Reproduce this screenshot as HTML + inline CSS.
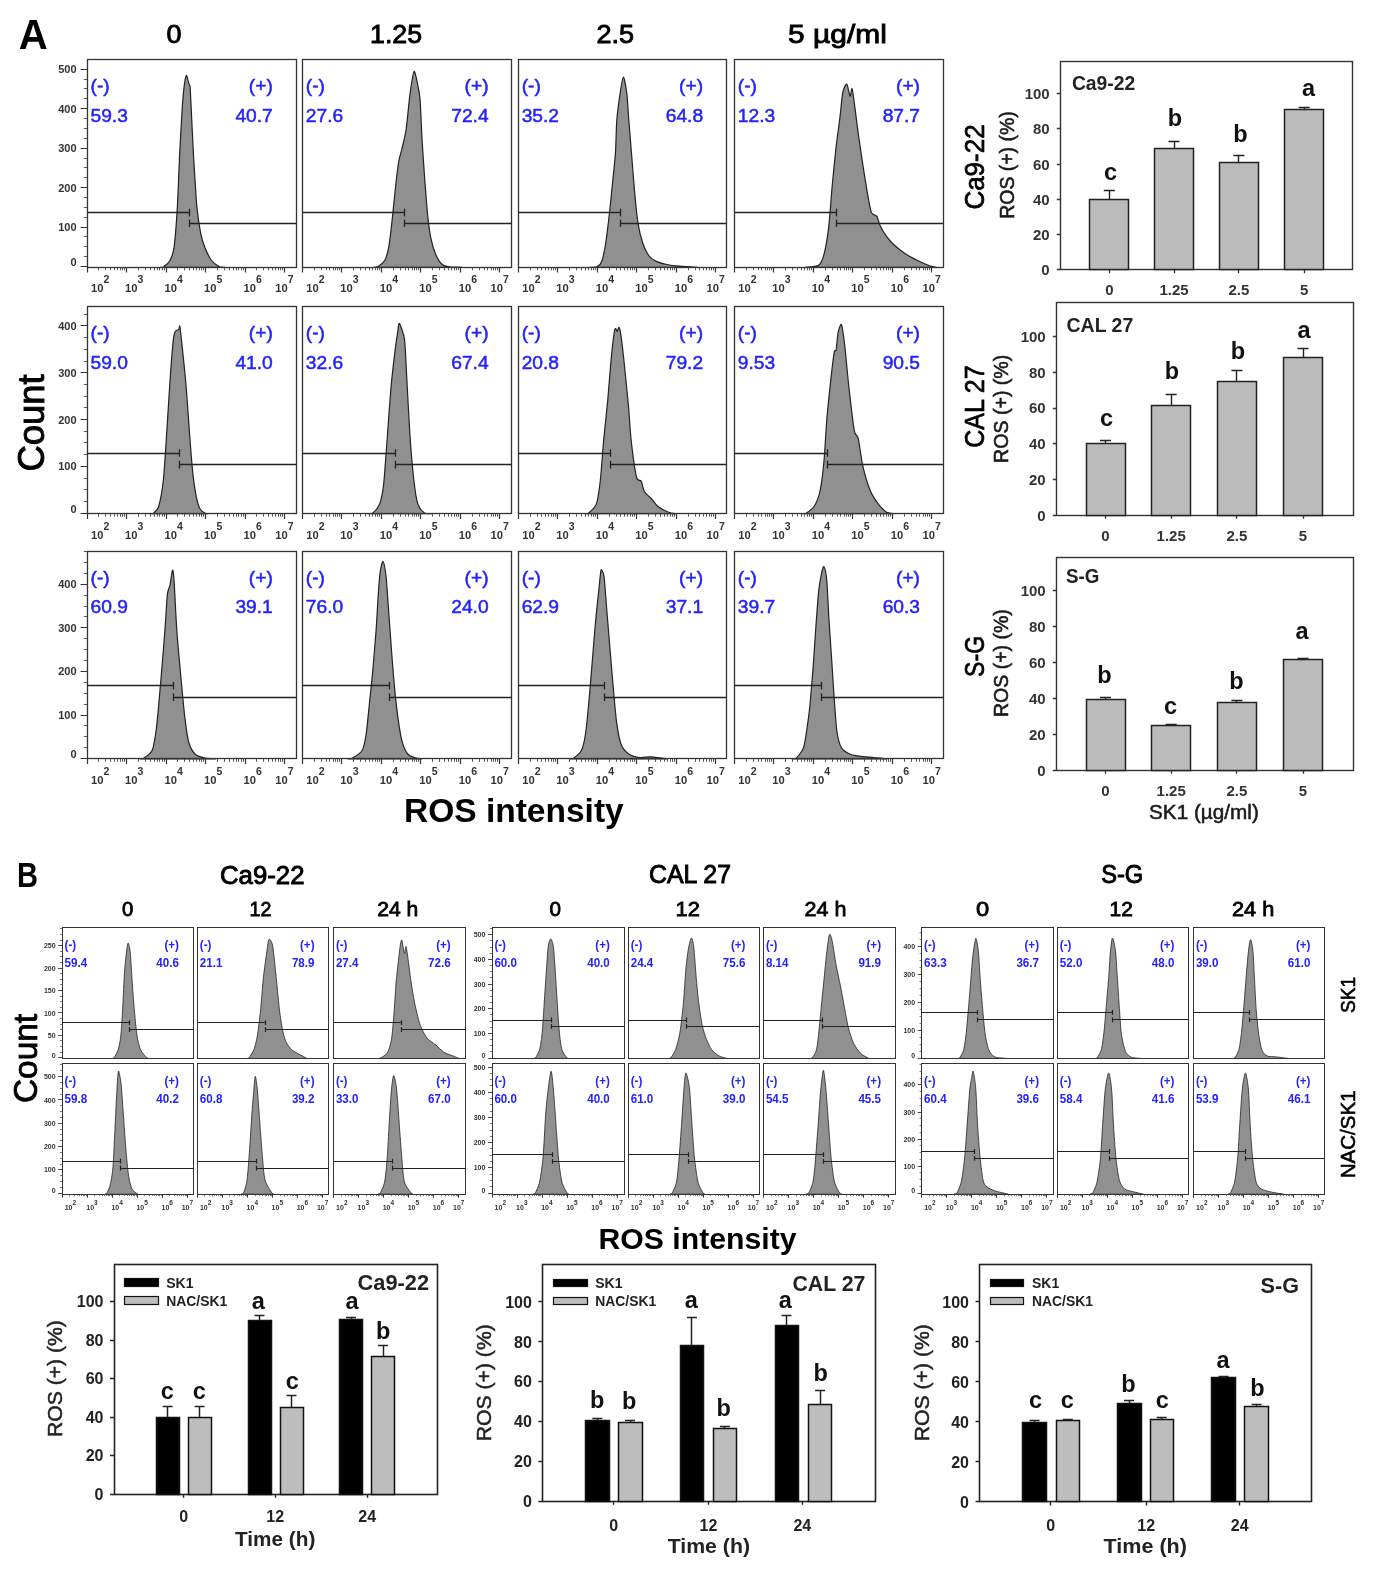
<!DOCTYPE html>
<html><head><meta charset="utf-8"><style>
html,body{margin:0;padding:0;background:#fff;width:1373px;height:1571px;overflow:hidden}
svg{display:block;font-family:"Liberation Sans", sans-serif;filter:blur(0.45px)}
</style></head><body>
<svg width="1373" height="1571" viewBox="0 0 1373 1571">
<rect width="1373" height="1571" fill="#fff"/>
<text x="18.8" y="49.2" font-size="42.5" font-weight="bold" textLength="29" lengthAdjust="spacingAndGlyphs">A</text>
<text x="166.5" y="43" font-size="26" textLength="15" lengthAdjust="spacingAndGlyphs" stroke="#000" stroke-width="0.9">0</text>
<text x="370.1" y="43" font-size="26" textLength="52" lengthAdjust="spacingAndGlyphs" stroke="#000" stroke-width="0.9">1.25</text>
<text x="596.5" y="43" font-size="26" textLength="37.6" lengthAdjust="spacingAndGlyphs" stroke="#000" stroke-width="0.9">2.5</text>
<text x="788.1" y="43" font-size="26" textLength="98.9" lengthAdjust="spacingAndGlyphs" stroke="#000" stroke-width="0.9">5 µg/ml</text>
<path d="M160 267.3C160.4 267.3 162.2 267.3 163.4 267C164.7 266.1 168.7 263 170 260.5C171.3 258 173.2 254 174.1 247.2C175 240.4 176.7 217.8 177.4 206.1C178.1 194.4 179 166.8 179.7 153.6C180.4 140.3 182 109.8 182.8 100.1C183.6 90.4 185.3 77.9 186.1 75.8C186.8 73.7 188.3 82 188.8 83.4C189.3 84.8 189.8 84.6 190.1 86.7C190.3 88.8 190.4 91.7 190.8 100.1C191.2 108.5 192.7 140.3 193.4 153.6C194.2 166.8 195.9 196.1 196.8 206.1C197.7 216.1 199.8 228.7 200.8 233.8C201.8 238.9 203.5 243.9 204.8 247.2C206.1 250.5 209.7 258.1 211.5 260.5C213.3 262.9 217.8 265.9 219.5 266.8C221.2 267.3 224.3 267.2 225 267.3Z" fill="#909090" stroke="#222" stroke-width="1.2" stroke-linejoin="round"/>
<rect x="87.5" y="59.5" width="209" height="208" fill="none" stroke="#333" stroke-width="1.3"/>
<text x="76.5" y="266.1" font-size="11" font-weight="bold" fill="#333" text-anchor="end">0</text>
<text x="76.5" y="231.1" font-size="11" font-weight="bold" fill="#333" text-anchor="end">100</text>
<text x="76.5" y="191.6" font-size="11" font-weight="bold" fill="#333" text-anchor="end">200</text>
<text x="76.5" y="152.1" font-size="11" font-weight="bold" fill="#333" text-anchor="end">300</text>
<text x="76.5" y="112.6" font-size="11" font-weight="bold" fill="#333" text-anchor="end">400</text>
<text x="76.5" y="73.2" font-size="11" font-weight="bold" fill="#333" text-anchor="end">500</text>
<text x="91" y="291.5" font-size="11.2" font-weight="bold" fill="#333">10</text>
<text x="103.5" y="282.9" font-size="10.5" font-weight="bold" fill="#333">2</text>
<text x="125" y="291.5" font-size="11.2" font-weight="bold" fill="#333">10</text>
<text x="137.5" y="282.9" font-size="10.5" font-weight="bold" fill="#333">3</text>
<text x="164.5" y="291.5" font-size="11.2" font-weight="bold" fill="#333">10</text>
<text x="177" y="282.9" font-size="10.5" font-weight="bold" fill="#333">4</text>
<text x="204" y="291.5" font-size="11.2" font-weight="bold" fill="#333">10</text>
<text x="216.5" y="282.9" font-size="10.5" font-weight="bold" fill="#333">5</text>
<text x="243.5" y="291.5" font-size="11.2" font-weight="bold" fill="#333">10</text>
<text x="256" y="282.9" font-size="10.5" font-weight="bold" fill="#333">6</text>
<text x="275.3" y="291.5" font-size="11.2" font-weight="bold" fill="#333">10</text>
<text x="287.8" y="282.9" font-size="10.5" font-weight="bold" fill="#333">7</text>
<text x="90.5" y="92.2" font-size="19.2" fill="#2222ff" stroke="#2222ff" stroke-width="0.5">(-)</text>
<text x="90.5" y="121.7" font-size="19.2" fill="#2222ff" stroke="#2222ff" stroke-width="0.5">59.3</text>
<text x="272.8" y="92.2" font-size="19.2" fill="#2222ff" text-anchor="end" stroke="#2222ff" stroke-width="0.5">(+)</text>
<text x="272.8" y="121.7" font-size="19.2" fill="#2222ff" text-anchor="end" stroke="#2222ff" stroke-width="0.5">40.7</text>
<path d="M374 267.3C374.5 267.2 376.7 267.3 378 266.6C379.3 265.8 383.4 262.9 384.7 260.5C386 258.1 387.8 252.2 388.7 247.2C389.6 242.2 391.3 227.8 392.1 220.4C392.9 213 394.6 195.7 395.4 188.3C396.2 181 397.9 166.6 398.7 161.6C399.5 156.6 401.2 152.2 402.1 148.2C403 144.2 405.1 136.3 406.1 129.5C407.1 122.7 409.1 100.7 410.1 93.4C411.1 86.1 413.1 72.2 414.1 71.4C415.1 70.6 417.4 83.1 418.1 86.7C418.9 90.3 419.6 93.4 420.1 100.1C420.6 106.8 421.5 130.2 422.1 140.2C422.7 150.2 424.1 171.1 424.8 180.3C425.5 189.5 426.8 206.5 427.5 213.7C428.2 220.9 429.8 232.8 430.8 237.8C431.8 242.8 434.1 250.6 435.5 253.9C436.9 257.2 440.4 262.9 442.2 264.5C444 266.1 447.7 266.5 450.2 266.9C452.7 267.2 460.7 267.2 462.2 267.3Z" fill="#909090" stroke="#222" stroke-width="1.2" stroke-linejoin="round"/>
<rect x="302.5" y="59.5" width="209" height="208" fill="none" stroke="#333" stroke-width="1.3"/>
<text x="306.3" y="291.5" font-size="11.2" font-weight="bold" fill="#333">10</text>
<text x="318.8" y="282.9" font-size="10.5" font-weight="bold" fill="#333">2</text>
<text x="340.3" y="291.5" font-size="11.2" font-weight="bold" fill="#333">10</text>
<text x="352.8" y="282.9" font-size="10.5" font-weight="bold" fill="#333">3</text>
<text x="379.8" y="291.5" font-size="11.2" font-weight="bold" fill="#333">10</text>
<text x="392.3" y="282.9" font-size="10.5" font-weight="bold" fill="#333">4</text>
<text x="419.3" y="291.5" font-size="11.2" font-weight="bold" fill="#333">10</text>
<text x="431.8" y="282.9" font-size="10.5" font-weight="bold" fill="#333">5</text>
<text x="458.8" y="291.5" font-size="11.2" font-weight="bold" fill="#333">10</text>
<text x="471.3" y="282.9" font-size="10.5" font-weight="bold" fill="#333">6</text>
<text x="490.6" y="291.5" font-size="11.2" font-weight="bold" fill="#333">10</text>
<text x="503.1" y="282.9" font-size="10.5" font-weight="bold" fill="#333">7</text>
<text x="305.8" y="92.2" font-size="19.2" fill="#2222ff" stroke="#2222ff" stroke-width="0.5">(-)</text>
<text x="305.8" y="121.7" font-size="19.2" fill="#2222ff" stroke="#2222ff" stroke-width="0.5">27.6</text>
<text x="488.6" y="92.2" font-size="19.2" fill="#2222ff" text-anchor="end" stroke="#2222ff" stroke-width="0.5">(+)</text>
<text x="488.6" y="121.7" font-size="19.2" fill="#2222ff" text-anchor="end" stroke="#2222ff" stroke-width="0.5">72.4</text>
<path d="M590 267.3C590.9 267.2 595.9 267.3 597.4 266.6C598.9 265.8 601 263.8 602.1 260.5C603.2 257.2 605.2 246.3 606.1 240.5C607 234.7 608.6 220.4 609.4 213.7C610.1 207 611.4 194.5 612.1 187C612.9 179.5 614.8 161.9 615.4 153.6C616 145.2 616.2 127.7 616.8 120.2C617.4 112.7 619.3 98.8 620.1 93.4C620.9 88 622.6 77.1 623.4 77.1C624.2 77.1 626.1 88 626.8 93.4C627.5 98.8 628.2 112.7 628.8 120.2C629.4 127.7 630.8 144.4 631.5 153.6C632.2 162.8 634 184.8 634.8 193.7C635.6 202.5 637.2 218.2 638.2 224.4C639.2 230.6 641.4 239.2 642.8 243.2C644.2 247.2 647.7 254.2 649.5 256.5C651.3 258.8 655.3 260.9 657.5 261.9C659.7 262.9 664.2 264 666.9 264.5C669.6 265 675.2 265.8 679 266.2C682.8 266.6 695.3 267.2 697.6 267.3Z" fill="#909090" stroke="#222" stroke-width="1.2" stroke-linejoin="round"/>
<rect x="518.5" y="59.5" width="208" height="208" fill="none" stroke="#333" stroke-width="1.3"/>
<text x="522.2" y="291.5" font-size="11.2" font-weight="bold" fill="#333">10</text>
<text x="534.7" y="282.9" font-size="10.5" font-weight="bold" fill="#333">2</text>
<text x="556.2" y="291.5" font-size="11.2" font-weight="bold" fill="#333">10</text>
<text x="568.7" y="282.9" font-size="10.5" font-weight="bold" fill="#333">3</text>
<text x="595.7" y="291.5" font-size="11.2" font-weight="bold" fill="#333">10</text>
<text x="608.2" y="282.9" font-size="10.5" font-weight="bold" fill="#333">4</text>
<text x="635.2" y="291.5" font-size="11.2" font-weight="bold" fill="#333">10</text>
<text x="647.7" y="282.9" font-size="10.5" font-weight="bold" fill="#333">5</text>
<text x="674.7" y="291.5" font-size="11.2" font-weight="bold" fill="#333">10</text>
<text x="687.2" y="282.9" font-size="10.5" font-weight="bold" fill="#333">6</text>
<text x="706.5" y="291.5" font-size="11.2" font-weight="bold" fill="#333">10</text>
<text x="719" y="282.9" font-size="10.5" font-weight="bold" fill="#333">7</text>
<text x="521.7" y="92.2" font-size="19.2" fill="#2222ff" stroke="#2222ff" stroke-width="0.5">(-)</text>
<text x="521.7" y="121.7" font-size="19.2" fill="#2222ff" stroke="#2222ff" stroke-width="0.5">35.2</text>
<text x="703.1" y="92.2" font-size="19.2" fill="#2222ff" text-anchor="end" stroke="#2222ff" stroke-width="0.5">(+)</text>
<text x="703.1" y="121.7" font-size="19.2" fill="#2222ff" text-anchor="end" stroke="#2222ff" stroke-width="0.5">64.8</text>
<path d="M805.3 267.3C807 267.1 816.4 267 818.7 265.3C821.1 263.6 822.9 258.7 824.1 253.9C825.4 249.1 827.7 235.5 828.7 227.1C829.7 218.7 831.2 197 832.1 187C833 177 835.1 155.8 836.1 146.9C837.1 138 839.3 122.9 840.1 116.1C840.9 109.2 842 96.1 842.8 92.1C843.6 88.1 845.9 83.6 846.8 84.1C847.7 84.6 849.4 95.5 850.1 96.1C850.8 96.7 851.5 87.4 852.1 88.7C852.7 90 854 100.7 854.8 106.8C855.6 112.9 857.8 130.3 858.8 137.5C859.8 144.7 861.8 157.8 862.8 164.3C863.8 170.8 865.8 183.8 866.8 189.7C867.8 195.5 870.1 208 870.9 211.1C871.7 214.2 872.8 213.8 873.5 214.5C874.2 215.2 876.1 215 876.9 216.4C877.7 217.8 879.1 223.5 880.2 225.8C881.3 228.1 883.9 232.8 885.6 235.1C887.3 237.4 891.1 242.2 893.6 244.5C896.1 246.8 902.6 251.9 905.6 253.9C908.6 255.9 914.8 259.1 917.6 260.5C920.4 261.9 925.9 264.4 928.3 265.3C930.6 266.2 935.4 267.1 936.4 267.3Z" fill="#909090" stroke="#222" stroke-width="1.2" stroke-linejoin="round"/>
<rect x="734.5" y="59.5" width="209" height="208" fill="none" stroke="#333" stroke-width="1.3"/>
<text x="738.3" y="291.5" font-size="11.2" font-weight="bold" fill="#333">10</text>
<text x="750.8" y="282.9" font-size="10.5" font-weight="bold" fill="#333">2</text>
<text x="772.3" y="291.5" font-size="11.2" font-weight="bold" fill="#333">10</text>
<text x="784.8" y="282.9" font-size="10.5" font-weight="bold" fill="#333">3</text>
<text x="811.8" y="291.5" font-size="11.2" font-weight="bold" fill="#333">10</text>
<text x="824.3" y="282.9" font-size="10.5" font-weight="bold" fill="#333">4</text>
<text x="851.3" y="291.5" font-size="11.2" font-weight="bold" fill="#333">10</text>
<text x="863.8" y="282.9" font-size="10.5" font-weight="bold" fill="#333">5</text>
<text x="890.8" y="291.5" font-size="11.2" font-weight="bold" fill="#333">10</text>
<text x="903.3" y="282.9" font-size="10.5" font-weight="bold" fill="#333">6</text>
<text x="922.6" y="291.5" font-size="11.2" font-weight="bold" fill="#333">10</text>
<text x="935.1" y="282.9" font-size="10.5" font-weight="bold" fill="#333">7</text>
<text x="737.8" y="92.2" font-size="19.2" fill="#2222ff" stroke="#2222ff" stroke-width="0.5">(-)</text>
<text x="737.8" y="121.7" font-size="19.2" fill="#2222ff" stroke="#2222ff" stroke-width="0.5">12.3</text>
<text x="920" y="92.2" font-size="19.2" fill="#2222ff" text-anchor="end" stroke="#2222ff" stroke-width="0.5">(+)</text>
<text x="920" y="121.7" font-size="19.2" fill="#2222ff" text-anchor="end" stroke="#2222ff" stroke-width="0.5">87.7</text>
<path d="M150 513.7C150.4 513.6 152.3 513.7 153.4 513.2C154.5 512.3 157.4 510.7 158.7 506.5C159.9 502.3 162.4 489 163.4 479.8C164.4 470.6 165.9 445.5 166.7 433C167.5 420.5 169.3 391.2 170.1 379.5C170.9 367.8 172.7 345.4 173.4 339.4C174.1 333.4 174.7 332.6 175.4 331.4C176.1 330.1 178.2 330.1 178.8 329.4C179.4 328.7 179.5 324.9 179.8 326.1C180.1 327.4 180.6 331.9 181.4 339.4C182.2 346.9 185.1 374.5 186.1 386.2C187.1 397.9 188.7 422.1 189.5 433C190.3 443.9 192 465.2 192.8 473.1C193.6 481 195.2 491.3 196.1 495.8C197 500.3 199 507 200.2 509.2C201.4 511.4 204.5 512.7 205.5 513.3C206.5 513.7 207.7 513.7 208 513.7Z" fill="#909090" stroke="#222" stroke-width="1.2" stroke-linejoin="round"/>
<rect x="87.5" y="306.5" width="209" height="207" fill="none" stroke="#333" stroke-width="1.3"/>
<text x="76.5" y="512.6" font-size="11" font-weight="bold" fill="#333" text-anchor="end">0</text>
<text x="76.5" y="470.3" font-size="11" font-weight="bold" fill="#333" text-anchor="end">100</text>
<text x="76.5" y="423.5" font-size="11" font-weight="bold" fill="#333" text-anchor="end">200</text>
<text x="76.5" y="376.7" font-size="11" font-weight="bold" fill="#333" text-anchor="end">300</text>
<text x="76.5" y="329.9" font-size="11" font-weight="bold" fill="#333" text-anchor="end">400</text>
<text x="91" y="538.6" font-size="11.2" font-weight="bold" fill="#333">10</text>
<text x="103.5" y="529.6" font-size="10.5" font-weight="bold" fill="#333">2</text>
<text x="125" y="538.6" font-size="11.2" font-weight="bold" fill="#333">10</text>
<text x="137.5" y="529.6" font-size="10.5" font-weight="bold" fill="#333">3</text>
<text x="164.5" y="538.6" font-size="11.2" font-weight="bold" fill="#333">10</text>
<text x="177" y="529.6" font-size="10.5" font-weight="bold" fill="#333">4</text>
<text x="204" y="538.6" font-size="11.2" font-weight="bold" fill="#333">10</text>
<text x="216.5" y="529.6" font-size="10.5" font-weight="bold" fill="#333">5</text>
<text x="243.5" y="538.6" font-size="11.2" font-weight="bold" fill="#333">10</text>
<text x="256" y="529.6" font-size="10.5" font-weight="bold" fill="#333">6</text>
<text x="275.3" y="538.6" font-size="11.2" font-weight="bold" fill="#333">10</text>
<text x="287.8" y="529.6" font-size="10.5" font-weight="bold" fill="#333">7</text>
<text x="90.5" y="339.1" font-size="19.2" fill="#2222ff" stroke="#2222ff" stroke-width="0.5">(-)</text>
<text x="90.5" y="368.6" font-size="19.2" fill="#2222ff" stroke="#2222ff" stroke-width="0.5">59.0</text>
<text x="272.8" y="339.1" font-size="19.2" fill="#2222ff" text-anchor="end" stroke="#2222ff" stroke-width="0.5">(+)</text>
<text x="272.8" y="368.6" font-size="19.2" fill="#2222ff" text-anchor="end" stroke="#2222ff" stroke-width="0.5">41.0</text>
<path d="M368 513.7C368.6 513.7 370.9 513.7 372.4 513.3C373.9 512.1 378.3 507.6 379.7 503.9C381.1 500.2 382.8 491.8 383.7 483.8C384.6 475.8 386.2 451.9 387.1 439.7C388 427.5 390.1 397.4 391.1 386.2C392.1 375 394.3 357 395.1 350.1C395.9 343.2 397.3 334.7 397.8 331.4C398.3 328.1 398.6 322.4 399.4 323.4C400.2 324.4 403.6 333.2 404.5 339.4C405.4 345.6 405.8 361.1 406.5 372.8C407.2 384.5 408.9 419.6 409.8 433C410.7 446.4 412.8 470.9 413.8 479.8C414.8 488.7 416.5 499.8 417.8 503.9C419.1 508 422.7 511.8 424.5 513C426.3 513.7 431.5 513.6 432.5 513.7Z" fill="#909090" stroke="#222" stroke-width="1.2" stroke-linejoin="round"/>
<rect x="302.5" y="306.5" width="209" height="207" fill="none" stroke="#333" stroke-width="1.3"/>
<text x="306.3" y="538.6" font-size="11.2" font-weight="bold" fill="#333">10</text>
<text x="318.8" y="529.6" font-size="10.5" font-weight="bold" fill="#333">2</text>
<text x="340.3" y="538.6" font-size="11.2" font-weight="bold" fill="#333">10</text>
<text x="352.8" y="529.6" font-size="10.5" font-weight="bold" fill="#333">3</text>
<text x="379.8" y="538.6" font-size="11.2" font-weight="bold" fill="#333">10</text>
<text x="392.3" y="529.6" font-size="10.5" font-weight="bold" fill="#333">4</text>
<text x="419.3" y="538.6" font-size="11.2" font-weight="bold" fill="#333">10</text>
<text x="431.8" y="529.6" font-size="10.5" font-weight="bold" fill="#333">5</text>
<text x="458.8" y="538.6" font-size="11.2" font-weight="bold" fill="#333">10</text>
<text x="471.3" y="529.6" font-size="10.5" font-weight="bold" fill="#333">6</text>
<text x="490.6" y="538.6" font-size="11.2" font-weight="bold" fill="#333">10</text>
<text x="503.1" y="529.6" font-size="10.5" font-weight="bold" fill="#333">7</text>
<text x="305.8" y="339.1" font-size="19.2" fill="#2222ff" stroke="#2222ff" stroke-width="0.5">(-)</text>
<text x="305.8" y="368.6" font-size="19.2" fill="#2222ff" stroke="#2222ff" stroke-width="0.5">32.6</text>
<text x="488.6" y="339.1" font-size="19.2" fill="#2222ff" text-anchor="end" stroke="#2222ff" stroke-width="0.5">(+)</text>
<text x="488.6" y="368.6" font-size="19.2" fill="#2222ff" text-anchor="end" stroke="#2222ff" stroke-width="0.5">67.4</text>
<path d="M585 513.7C585.4 513.6 587 513.7 588.4 513.2C589.8 512 594.9 508.1 596.4 503.9C597.9 499.7 599.5 487.8 600.4 479.8C601.3 471.8 602.8 449.7 603.7 439.7C604.6 429.7 606.9 409.6 607.8 399.6C608.7 389.6 610.3 368 611.1 359.5C611.9 351 613.8 335.2 614.4 331.4C615 327.5 615.5 328.7 615.8 328.7C616.1 328.7 616.7 331.6 617.1 331.4C617.5 331.2 618.6 326.7 619.1 327.4C619.6 328.1 620.4 331.8 621.1 336.7C621.8 341.6 623.6 357.5 624.5 366.2C625.4 374.9 627.7 397.1 628.5 406.3C629.3 415.5 630.1 430.8 631.1 439.7C632.1 448.6 635.2 471.9 636.5 477.1C637.8 482.3 640.2 479.3 641.2 481.1C642.2 482.9 643.2 489.6 644.5 491.8C645.8 494 649.5 496.7 651.2 498.5C652.9 500.3 655.7 504.8 657.9 506.5C660.1 508.2 666.3 511.3 668.6 512.2C670.9 513.1 675.6 513.5 676.6 513.7Z" fill="#909090" stroke="#222" stroke-width="1.2" stroke-linejoin="round"/>
<rect x="518.5" y="306.5" width="208" height="207" fill="none" stroke="#333" stroke-width="1.3"/>
<text x="522.2" y="538.6" font-size="11.2" font-weight="bold" fill="#333">10</text>
<text x="534.7" y="529.6" font-size="10.5" font-weight="bold" fill="#333">2</text>
<text x="556.2" y="538.6" font-size="11.2" font-weight="bold" fill="#333">10</text>
<text x="568.7" y="529.6" font-size="10.5" font-weight="bold" fill="#333">3</text>
<text x="595.7" y="538.6" font-size="11.2" font-weight="bold" fill="#333">10</text>
<text x="608.2" y="529.6" font-size="10.5" font-weight="bold" fill="#333">4</text>
<text x="635.2" y="538.6" font-size="11.2" font-weight="bold" fill="#333">10</text>
<text x="647.7" y="529.6" font-size="10.5" font-weight="bold" fill="#333">5</text>
<text x="674.7" y="538.6" font-size="11.2" font-weight="bold" fill="#333">10</text>
<text x="687.2" y="529.6" font-size="10.5" font-weight="bold" fill="#333">6</text>
<text x="706.5" y="538.6" font-size="11.2" font-weight="bold" fill="#333">10</text>
<text x="719" y="529.6" font-size="10.5" font-weight="bold" fill="#333">7</text>
<text x="521.7" y="339.1" font-size="19.2" fill="#2222ff" stroke="#2222ff" stroke-width="0.5">(-)</text>
<text x="521.7" y="368.6" font-size="19.2" fill="#2222ff" stroke="#2222ff" stroke-width="0.5">20.8</text>
<text x="703.1" y="339.1" font-size="19.2" fill="#2222ff" text-anchor="end" stroke="#2222ff" stroke-width="0.5">(+)</text>
<text x="703.1" y="368.6" font-size="19.2" fill="#2222ff" text-anchor="end" stroke="#2222ff" stroke-width="0.5">79.2</text>
<path d="M802 513.7C802.5 513.6 804.5 513.7 806 513.2C807.5 512.3 812.3 509.3 814.1 506.5C815.9 503.7 818.9 496.4 820.1 490.5C821.4 484.6 823.3 468.6 824.1 459.7C824.9 450.8 826 428.8 826.8 419.6C827.5 410.4 829.2 394.6 830.1 386.2C831 377.8 833.4 357.3 834.1 352.8C834.9 348.3 835.6 352.6 836.1 350.1C836.6 347.6 837.4 335.9 838.1 332.7C838.8 329.5 840.7 323 841.5 324.7C842.3 326.4 843.9 338.4 844.8 346.1C845.7 353.8 847.6 375.7 848.8 386.2C850 396.7 853 423.8 854.2 430.3C855.4 436.8 857.1 433.9 858.2 438.4C859.3 442.9 861.4 459.9 862.9 466.4C864.4 472.9 868.3 485.8 870.2 490.5C872.1 495.2 876.2 501.2 878.2 503.9C880.2 506.6 884.3 510.8 886.3 512C888.3 513.2 893.3 513.5 894.3 513.7Z" fill="#909090" stroke="#222" stroke-width="1.2" stroke-linejoin="round"/>
<rect x="734.5" y="306.5" width="209" height="207" fill="none" stroke="#333" stroke-width="1.3"/>
<text x="738.3" y="538.6" font-size="11.2" font-weight="bold" fill="#333">10</text>
<text x="750.8" y="529.6" font-size="10.5" font-weight="bold" fill="#333">2</text>
<text x="772.3" y="538.6" font-size="11.2" font-weight="bold" fill="#333">10</text>
<text x="784.8" y="529.6" font-size="10.5" font-weight="bold" fill="#333">3</text>
<text x="811.8" y="538.6" font-size="11.2" font-weight="bold" fill="#333">10</text>
<text x="824.3" y="529.6" font-size="10.5" font-weight="bold" fill="#333">4</text>
<text x="851.3" y="538.6" font-size="11.2" font-weight="bold" fill="#333">10</text>
<text x="863.8" y="529.6" font-size="10.5" font-weight="bold" fill="#333">5</text>
<text x="890.8" y="538.6" font-size="11.2" font-weight="bold" fill="#333">10</text>
<text x="903.3" y="529.6" font-size="10.5" font-weight="bold" fill="#333">6</text>
<text x="922.6" y="538.6" font-size="11.2" font-weight="bold" fill="#333">10</text>
<text x="935.1" y="529.6" font-size="10.5" font-weight="bold" fill="#333">7</text>
<text x="737.8" y="339.1" font-size="19.2" fill="#2222ff" stroke="#2222ff" stroke-width="0.5">(-)</text>
<text x="737.8" y="368.6" font-size="19.2" fill="#2222ff" stroke="#2222ff" stroke-width="0.5">9.53</text>
<text x="920" y="339.1" font-size="19.2" fill="#2222ff" text-anchor="end" stroke="#2222ff" stroke-width="0.5">(+)</text>
<text x="920" y="368.6" font-size="19.2" fill="#2222ff" text-anchor="end" stroke="#2222ff" stroke-width="0.5">90.5</text>
<path d="M140 758.8C140.4 758.7 141.9 758.8 143.4 758.3C144.9 757.3 150.5 754 152.1 750.5C153.7 747 155.2 737.2 156.1 730.5C157 723.8 158.6 706.3 159.4 697.1C160.2 687.9 162.1 666.2 162.8 657C163.6 647.8 164.8 631.4 165.4 623.5C166 615.6 166.8 598.9 167.4 594.1C168 589.3 169.5 587.8 170.1 584.8C170.7 581.8 172 570.6 172.5 570.1C173 569.6 173.6 573.2 174.1 580.7C174.6 588.2 175.9 617.3 176.8 630.2C177.7 643.1 180.5 672.8 181.5 683.7C182.5 694.6 183.9 709.8 184.8 717.1C185.7 724.5 187.5 737.8 188.8 742.5C190.1 747.2 193.5 752.6 195.5 754.5C197.5 756.4 202.4 757.5 204.9 758C207.4 758.5 214.3 758.7 215.6 758.8Z" fill="#909090" stroke="#222" stroke-width="1.2" stroke-linejoin="round"/>
<rect x="87.5" y="551.5" width="209" height="207" fill="none" stroke="#333" stroke-width="1.3"/>
<text x="76.5" y="758.1" font-size="11" font-weight="bold" fill="#333" text-anchor="end">0</text>
<text x="76.5" y="719" font-size="11" font-weight="bold" fill="#333" text-anchor="end">100</text>
<text x="76.5" y="675.4" font-size="11" font-weight="bold" fill="#333" text-anchor="end">200</text>
<text x="76.5" y="631.8" font-size="11" font-weight="bold" fill="#333" text-anchor="end">300</text>
<text x="76.5" y="588.2" font-size="11" font-weight="bold" fill="#333" text-anchor="end">400</text>
<text x="91" y="784" font-size="11.2" font-weight="bold" fill="#333">10</text>
<text x="103.5" y="775" font-size="10.5" font-weight="bold" fill="#333">2</text>
<text x="125" y="784" font-size="11.2" font-weight="bold" fill="#333">10</text>
<text x="137.5" y="775" font-size="10.5" font-weight="bold" fill="#333">3</text>
<text x="164.5" y="784" font-size="11.2" font-weight="bold" fill="#333">10</text>
<text x="177" y="775" font-size="10.5" font-weight="bold" fill="#333">4</text>
<text x="204" y="784" font-size="11.2" font-weight="bold" fill="#333">10</text>
<text x="216.5" y="775" font-size="10.5" font-weight="bold" fill="#333">5</text>
<text x="243.5" y="784" font-size="11.2" font-weight="bold" fill="#333">10</text>
<text x="256" y="775" font-size="10.5" font-weight="bold" fill="#333">6</text>
<text x="275.3" y="784" font-size="11.2" font-weight="bold" fill="#333">10</text>
<text x="287.8" y="775" font-size="10.5" font-weight="bold" fill="#333">7</text>
<text x="90.5" y="583.9" font-size="19.2" fill="#2222ff" stroke="#2222ff" stroke-width="0.5">(-)</text>
<text x="90.5" y="613.4" font-size="19.2" fill="#2222ff" stroke="#2222ff" stroke-width="0.5">60.9</text>
<text x="272.8" y="583.9" font-size="19.2" fill="#2222ff" text-anchor="end" stroke="#2222ff" stroke-width="0.5">(+)</text>
<text x="272.8" y="613.4" font-size="19.2" fill="#2222ff" text-anchor="end" stroke="#2222ff" stroke-width="0.5">39.1</text>
<path d="M348 758.8C348.5 758.7 350.2 758.8 352 758.3C353.8 757.3 360.3 753.5 362.1 750.5C363.9 747.5 365.2 740.4 366.1 734.5C367 728.6 368.6 711.7 369.4 703.7C370.2 695.7 372 679.5 372.8 670.3C373.6 661.1 375.4 639.4 376.1 630.2C376.8 621 377.6 604 378.1 596.8C378.6 589.6 379.5 577.1 380.1 572.7C380.7 568.3 382.2 560.9 383 561.4C383.8 561.9 385.5 571.4 386.1 576.7C386.7 582 387.4 594.3 388.1 603.5C388.8 612.7 390.7 639.4 391.5 650.3C392.3 661.2 393.9 681.2 394.8 690.4C395.7 699.6 397.8 717.1 398.8 723.8C399.8 730.5 401.6 740.1 402.8 743.9C404 747.7 406.5 752.7 408.2 754.5C409.9 756.3 414.5 757.6 416.2 758.1C417.9 758.6 420.9 758.7 421.6 758.8Z" fill="#909090" stroke="#222" stroke-width="1.2" stroke-linejoin="round"/>
<rect x="302.5" y="551.5" width="209" height="207" fill="none" stroke="#333" stroke-width="1.3"/>
<text x="306.3" y="784" font-size="11.2" font-weight="bold" fill="#333">10</text>
<text x="318.8" y="775" font-size="10.5" font-weight="bold" fill="#333">2</text>
<text x="340.3" y="784" font-size="11.2" font-weight="bold" fill="#333">10</text>
<text x="352.8" y="775" font-size="10.5" font-weight="bold" fill="#333">3</text>
<text x="379.8" y="784" font-size="11.2" font-weight="bold" fill="#333">10</text>
<text x="392.3" y="775" font-size="10.5" font-weight="bold" fill="#333">4</text>
<text x="419.3" y="784" font-size="11.2" font-weight="bold" fill="#333">10</text>
<text x="431.8" y="775" font-size="10.5" font-weight="bold" fill="#333">5</text>
<text x="458.8" y="784" font-size="11.2" font-weight="bold" fill="#333">10</text>
<text x="471.3" y="775" font-size="10.5" font-weight="bold" fill="#333">6</text>
<text x="490.6" y="784" font-size="11.2" font-weight="bold" fill="#333">10</text>
<text x="503.1" y="775" font-size="10.5" font-weight="bold" fill="#333">7</text>
<text x="305.8" y="583.9" font-size="19.2" fill="#2222ff" stroke="#2222ff" stroke-width="0.5">(-)</text>
<text x="305.8" y="613.4" font-size="19.2" fill="#2222ff" stroke="#2222ff" stroke-width="0.5">76.0</text>
<text x="488.6" y="583.9" font-size="19.2" fill="#2222ff" text-anchor="end" stroke="#2222ff" stroke-width="0.5">(+)</text>
<text x="488.6" y="613.4" font-size="19.2" fill="#2222ff" text-anchor="end" stroke="#2222ff" stroke-width="0.5">24.0</text>
<path d="M570 758.8C570.4 758.7 572 758.8 573.4 758.3C574.8 757.3 579.9 753.5 581.4 750.5C582.9 747.5 584.5 740.4 585.4 734.5C586.3 728.6 587.9 712.6 588.7 703.7C589.5 694.8 591.3 673.6 592.1 663.6C592.9 653.6 594.6 632.7 595.4 623.5C596.2 614.3 598.1 596.6 598.8 590.1C599.5 583.6 600.4 573.9 600.8 571.4C601.2 568.9 601.3 569.4 601.7 570.1C602.1 570.8 603.5 571.7 604.1 576.7C604.7 581.7 606 601 606.8 610.2C607.5 619.4 609.3 640.3 610.1 650.3C610.9 660.3 612.7 681.2 613.5 690.4C614.3 699.6 615.8 716.9 616.8 723.8C617.8 730.6 619.9 741.4 621.5 745.2C623.1 749 627.2 753 629.5 754.5C631.8 756 637.5 757.2 640.2 757.5C642.9 757.8 647.5 756.6 650.9 756.8C654.2 757 665 758.5 667 758.8Z" fill="#909090" stroke="#222" stroke-width="1.2" stroke-linejoin="round"/>
<rect x="518.5" y="551.5" width="208" height="207" fill="none" stroke="#333" stroke-width="1.3"/>
<text x="522.2" y="784" font-size="11.2" font-weight="bold" fill="#333">10</text>
<text x="534.7" y="775" font-size="10.5" font-weight="bold" fill="#333">2</text>
<text x="556.2" y="784" font-size="11.2" font-weight="bold" fill="#333">10</text>
<text x="568.7" y="775" font-size="10.5" font-weight="bold" fill="#333">3</text>
<text x="595.7" y="784" font-size="11.2" font-weight="bold" fill="#333">10</text>
<text x="608.2" y="775" font-size="10.5" font-weight="bold" fill="#333">4</text>
<text x="635.2" y="784" font-size="11.2" font-weight="bold" fill="#333">10</text>
<text x="647.7" y="775" font-size="10.5" font-weight="bold" fill="#333">5</text>
<text x="674.7" y="784" font-size="11.2" font-weight="bold" fill="#333">10</text>
<text x="687.2" y="775" font-size="10.5" font-weight="bold" fill="#333">6</text>
<text x="706.5" y="784" font-size="11.2" font-weight="bold" fill="#333">10</text>
<text x="719" y="775" font-size="10.5" font-weight="bold" fill="#333">7</text>
<text x="521.7" y="583.9" font-size="19.2" fill="#2222ff" stroke="#2222ff" stroke-width="0.5">(-)</text>
<text x="521.7" y="613.4" font-size="19.2" fill="#2222ff" stroke="#2222ff" stroke-width="0.5">62.9</text>
<text x="703.1" y="583.9" font-size="19.2" fill="#2222ff" text-anchor="end" stroke="#2222ff" stroke-width="0.5">(+)</text>
<text x="703.1" y="613.4" font-size="19.2" fill="#2222ff" text-anchor="end" stroke="#2222ff" stroke-width="0.5">37.1</text>
<path d="M792 758.8C792.5 758.7 794.6 758.8 796 758.3C797.4 756.9 802.1 751.4 803.4 747.9C804.7 744.4 805.9 736 806.7 730.5C807.5 725 809.3 712.1 810.1 703.7C810.9 695.3 812.6 673.6 813.4 663.6C814.1 653.6 815.4 632.7 816.1 623.5C816.8 614.3 818.1 596.3 818.8 590.1C819.5 583.9 820.8 577 821.4 574.1C822 571.2 823.2 565.9 823.9 566.7C824.6 567.5 826.2 574.4 826.8 580.7C827.4 587 828.2 607.3 828.8 616.8C829.4 626.3 830.8 647 831.5 657C832.2 667 833.4 687.9 834.1 697.1C834.8 706.3 835.9 724.1 836.8 730.5C837.7 736.9 839.7 744.9 841.5 747.9C843.3 750.9 848.2 753.4 850.9 754.5C853.6 755.6 860.1 756.2 862.9 756.6C865.7 757 870.6 757.2 873.6 757.5C876.6 757.8 885.3 758.6 887 758.8Z" fill="#909090" stroke="#222" stroke-width="1.2" stroke-linejoin="round"/>
<rect x="734.5" y="551.5" width="209" height="207" fill="none" stroke="#333" stroke-width="1.3"/>
<text x="738.3" y="784" font-size="11.2" font-weight="bold" fill="#333">10</text>
<text x="750.8" y="775" font-size="10.5" font-weight="bold" fill="#333">2</text>
<text x="772.3" y="784" font-size="11.2" font-weight="bold" fill="#333">10</text>
<text x="784.8" y="775" font-size="10.5" font-weight="bold" fill="#333">3</text>
<text x="811.8" y="784" font-size="11.2" font-weight="bold" fill="#333">10</text>
<text x="824.3" y="775" font-size="10.5" font-weight="bold" fill="#333">4</text>
<text x="851.3" y="784" font-size="11.2" font-weight="bold" fill="#333">10</text>
<text x="863.8" y="775" font-size="10.5" font-weight="bold" fill="#333">5</text>
<text x="890.8" y="784" font-size="11.2" font-weight="bold" fill="#333">10</text>
<text x="903.3" y="775" font-size="10.5" font-weight="bold" fill="#333">6</text>
<text x="922.6" y="784" font-size="11.2" font-weight="bold" fill="#333">10</text>
<text x="935.1" y="775" font-size="10.5" font-weight="bold" fill="#333">7</text>
<text x="737.8" y="583.9" font-size="19.2" fill="#2222ff" stroke="#2222ff" stroke-width="0.5">(-)</text>
<text x="737.8" y="613.4" font-size="19.2" fill="#2222ff" stroke="#2222ff" stroke-width="0.5">39.7</text>
<text x="920" y="583.9" font-size="19.2" fill="#2222ff" text-anchor="end" stroke="#2222ff" stroke-width="0.5">(+)</text>
<text x="920" y="613.4" font-size="19.2" fill="#2222ff" text-anchor="end" stroke="#2222ff" stroke-width="0.5">60.3</text>
<text x="44.4" y="471.6" font-size="36" transform="rotate(-90 44.4 471.6)" textLength="97.3" lengthAdjust="spacingAndGlyphs" stroke="#000" stroke-width="0.9">Count</text>
<text x="404" y="822.2" font-size="32.8" font-weight="bold" textLength="219.7" lengthAdjust="spacingAndGlyphs">ROS intensity</text>
<rect x="1060.5" y="61.5" width="292" height="208" fill="none" stroke="#333" stroke-width="1.4"/>
<text x="1049.7" y="275.1" font-size="15" font-weight="bold" fill="#333" text-anchor="end">0</text>
<text x="1049.7" y="239.9" font-size="15" font-weight="bold" fill="#333" text-anchor="end">20</text>
<text x="1049.7" y="204.7" font-size="15" font-weight="bold" fill="#333" text-anchor="end">40</text>
<text x="1049.7" y="169.5" font-size="15" font-weight="bold" fill="#333" text-anchor="end">60</text>
<text x="1049.7" y="134.3" font-size="15" font-weight="bold" fill="#333" text-anchor="end">80</text>
<text x="1049.7" y="99.1" font-size="15" font-weight="bold" fill="#333" text-anchor="end">100</text>
<rect x="1089.5" y="199.5" width="39" height="70" fill="#bbbbbb" stroke="#222" stroke-width="1.5"/>
<rect x="1154.5" y="148.5" width="39" height="121" fill="#bbbbbb" stroke="#222" stroke-width="1.5"/>
<rect x="1219.5" y="162.5" width="39" height="107" fill="#bbbbbb" stroke="#222" stroke-width="1.5"/>
<rect x="1284.5" y="109.5" width="39" height="160" fill="#bbbbbb" stroke="#222" stroke-width="1.5"/>
<text x="1110.5" y="180.2" font-size="23.5" font-weight="bold" fill="#111" text-anchor="middle">c</text>
<text x="1175" y="126.3" font-size="23.5" font-weight="bold" fill="#111" text-anchor="middle">b</text>
<text x="1240.5" y="141.6" font-size="23.5" font-weight="bold" fill="#111" text-anchor="middle">b</text>
<text x="1308.5" y="95.5" font-size="23.5" font-weight="bold" fill="#111" text-anchor="middle">a</text>
<text x="1071.9" y="89.9" font-size="19.3" font-weight="bold" fill="#222" textLength="63.4" lengthAdjust="spacingAndGlyphs">Ca9-22</text>
<text x="1109.3" y="294.5" font-size="15" font-weight="bold" fill="#333" text-anchor="middle">0</text>
<text x="1174" y="294.5" font-size="15" font-weight="bold" fill="#333" text-anchor="middle">1.25</text>
<text x="1238.9" y="294.5" font-size="15" font-weight="bold" fill="#333" text-anchor="middle">2.5</text>
<text x="1304.2" y="294.5" font-size="15" font-weight="bold" fill="#333" text-anchor="middle">5</text>
<text x="984.3" y="167" font-size="27" text-anchor="middle" transform="rotate(-90 984.3 167)" textLength="85.2" lengthAdjust="spacingAndGlyphs" stroke="#000" stroke-width="0.7">Ca9-22</text>
<text x="1013.7" y="165" font-size="19.7" fill="#1a1a1a" text-anchor="middle" transform="rotate(-90 1013.7 165)" textLength="107.5" lengthAdjust="spacingAndGlyphs" stroke="#1a1a1a" stroke-width="0.6">ROS (+) (%)</text>
<rect x="1056.5" y="302.5" width="297" height="213" fill="none" stroke="#333" stroke-width="1.4"/>
<text x="1045.7" y="520.7" font-size="15" font-weight="bold" fill="#333" text-anchor="end">0</text>
<text x="1045.7" y="484.9" font-size="15" font-weight="bold" fill="#333" text-anchor="end">20</text>
<text x="1045.7" y="449.2" font-size="15" font-weight="bold" fill="#333" text-anchor="end">40</text>
<text x="1045.7" y="413.4" font-size="15" font-weight="bold" fill="#333" text-anchor="end">60</text>
<text x="1045.7" y="377.7" font-size="15" font-weight="bold" fill="#333" text-anchor="end">80</text>
<text x="1045.7" y="341.9" font-size="15" font-weight="bold" fill="#333" text-anchor="end">100</text>
<rect x="1086.5" y="443.5" width="39" height="72" fill="#bbbbbb" stroke="#222" stroke-width="1.5"/>
<rect x="1151.5" y="405.5" width="39" height="110" fill="#bbbbbb" stroke="#222" stroke-width="1.5"/>
<rect x="1217.5" y="381.5" width="39" height="134" fill="#bbbbbb" stroke="#222" stroke-width="1.5"/>
<rect x="1283.5" y="357.5" width="39" height="158" fill="#bbbbbb" stroke="#222" stroke-width="1.5"/>
<text x="1106.5" y="425.5" font-size="23.5" font-weight="bold" fill="#111" text-anchor="middle">c</text>
<text x="1172" y="379" font-size="23.5" font-weight="bold" fill="#111" text-anchor="middle">b</text>
<text x="1238" y="359" font-size="23.5" font-weight="bold" fill="#111" text-anchor="middle">b</text>
<text x="1304" y="337.7" font-size="23.5" font-weight="bold" fill="#111" text-anchor="middle">a</text>
<text x="1066.5" y="332.2" font-size="19.3" font-weight="bold" fill="#222" textLength="66.8" lengthAdjust="spacingAndGlyphs">CAL 27</text>
<text x="1105.5" y="540.5" font-size="15" font-weight="bold" fill="#333" text-anchor="middle">0</text>
<text x="1171.2" y="540.5" font-size="15" font-weight="bold" fill="#333" text-anchor="middle">1.25</text>
<text x="1236.9" y="540.5" font-size="15" font-weight="bold" fill="#333" text-anchor="middle">2.5</text>
<text x="1303" y="540.5" font-size="15" font-weight="bold" fill="#333" text-anchor="middle">5</text>
<text x="984.3" y="406.6" font-size="27" text-anchor="middle" transform="rotate(-90 984.3 406.6)" textLength="82.4" lengthAdjust="spacingAndGlyphs" stroke="#000" stroke-width="0.7">CAL 27</text>
<text x="1008.4" y="408.8" font-size="19.7" fill="#1a1a1a" text-anchor="middle" transform="rotate(-90 1008.4 408.8)" textLength="108.2" lengthAdjust="spacingAndGlyphs" stroke="#1a1a1a" stroke-width="0.6">ROS (+) (%)</text>
<rect x="1056.5" y="557.5" width="297" height="213" fill="none" stroke="#333" stroke-width="1.4"/>
<text x="1045.7" y="775.6" font-size="15" font-weight="bold" fill="#333" text-anchor="end">0</text>
<text x="1045.7" y="739.7" font-size="15" font-weight="bold" fill="#333" text-anchor="end">20</text>
<text x="1045.7" y="703.8" font-size="15" font-weight="bold" fill="#333" text-anchor="end">40</text>
<text x="1045.7" y="668" font-size="15" font-weight="bold" fill="#333" text-anchor="end">60</text>
<text x="1045.7" y="632.1" font-size="15" font-weight="bold" fill="#333" text-anchor="end">80</text>
<text x="1045.7" y="596.2" font-size="15" font-weight="bold" fill="#333" text-anchor="end">100</text>
<rect x="1086.5" y="699.5" width="39" height="71" fill="#bbbbbb" stroke="#222" stroke-width="1.5"/>
<rect x="1151.5" y="725.5" width="39" height="45" fill="#bbbbbb" stroke="#222" stroke-width="1.5"/>
<rect x="1217.5" y="702.5" width="39" height="68" fill="#bbbbbb" stroke="#222" stroke-width="1.5"/>
<rect x="1283.5" y="659.5" width="39" height="111" fill="#bbbbbb" stroke="#222" stroke-width="1.5"/>
<text x="1104.5" y="683" font-size="23.5" font-weight="bold" fill="#111" text-anchor="middle">b</text>
<text x="1170.5" y="714" font-size="23.5" font-weight="bold" fill="#111" text-anchor="middle">c</text>
<text x="1236.5" y="689.4" font-size="23.5" font-weight="bold" fill="#111" text-anchor="middle">b</text>
<text x="1302" y="638.6" font-size="23.5" font-weight="bold" fill="#111" text-anchor="middle">a</text>
<text x="1066" y="583" font-size="19.3" font-weight="bold" fill="#222" textLength="33.4" lengthAdjust="spacingAndGlyphs">S-G</text>
<text x="1105.5" y="795.5" font-size="15" font-weight="bold" fill="#333" text-anchor="middle">0</text>
<text x="1171.2" y="795.5" font-size="15" font-weight="bold" fill="#333" text-anchor="middle">1.25</text>
<text x="1236.9" y="795.5" font-size="15" font-weight="bold" fill="#333" text-anchor="middle">2.5</text>
<text x="1303" y="795.5" font-size="15" font-weight="bold" fill="#333" text-anchor="middle">5</text>
<text x="984.3" y="656.4" font-size="27" text-anchor="middle" transform="rotate(-90 984.3 656.4)" textLength="41" lengthAdjust="spacingAndGlyphs" stroke="#000" stroke-width="0.7">S-G</text>
<text x="1008.4" y="663.1" font-size="19.7" fill="#1a1a1a" text-anchor="middle" transform="rotate(-90 1008.4 663.1)" textLength="107.8" lengthAdjust="spacingAndGlyphs" stroke="#1a1a1a" stroke-width="0.6">ROS (+) (%)</text>
<text x="1149" y="819.4" font-size="19.3" fill="#1a1a1a" textLength="109.8" lengthAdjust="spacingAndGlyphs" stroke="#1a1a1a" stroke-width="0.5">SK1 (µg/ml)</text>
<text x="17" y="887.4" font-size="35" font-weight="bold" textLength="21" lengthAdjust="spacingAndGlyphs">B</text>
<text x="220" y="883.5" font-size="25" textLength="84.5" lengthAdjust="spacingAndGlyphs" stroke="#000" stroke-width="0.9">Ca9-22</text>
<text x="649" y="883" font-size="25" textLength="82" lengthAdjust="spacingAndGlyphs" stroke="#000" stroke-width="0.9">CAL 27</text>
<text x="1101.2" y="883.4" font-size="25" textLength="42" lengthAdjust="spacingAndGlyphs" stroke="#000" stroke-width="0.9">S-G</text>
<text x="122" y="915.8" font-size="20.5" textLength="11.3" lengthAdjust="spacingAndGlyphs" stroke="#000" stroke-width="0.8">0</text>
<text x="249.6" y="915.8" font-size="20.5" textLength="21.8" lengthAdjust="spacingAndGlyphs" stroke="#000" stroke-width="0.8">12</text>
<text x="377.2" y="915.8" font-size="20.5" textLength="41" lengthAdjust="spacingAndGlyphs" stroke="#000" stroke-width="0.8">24 h</text>
<text x="549.4" y="915.8" font-size="20.5" textLength="11.5" lengthAdjust="spacingAndGlyphs" stroke="#000" stroke-width="0.8">0</text>
<text x="675.6" y="915.8" font-size="20.5" textLength="24.3" lengthAdjust="spacingAndGlyphs" stroke="#000" stroke-width="0.8">12</text>
<text x="804.6" y="915.8" font-size="20.5" textLength="41.8" lengthAdjust="spacingAndGlyphs" stroke="#000" stroke-width="0.8">24 h</text>
<text x="976.1" y="915.8" font-size="20.5" textLength="13.2" lengthAdjust="spacingAndGlyphs" stroke="#000" stroke-width="0.8">0</text>
<text x="1109.6" y="915.8" font-size="20.5" textLength="23.3" lengthAdjust="spacingAndGlyphs" stroke="#000" stroke-width="0.8">12</text>
<text x="1232" y="915.8" font-size="20.5" textLength="42.2" lengthAdjust="spacingAndGlyphs" stroke="#000" stroke-width="0.8">24 h</text>
<path d="M111 1058.5C111.4 1058.5 113 1058.5 113.9 1058.1C114.8 1057 117.3 1052.5 118.2 1049.7C119.1 1046.9 120.3 1040.7 120.8 1036C121.3 1031.3 122.1 1019.2 122.5 1011.9C122.9 1004.6 123.8 984.4 124.2 977.5C124.6 970.6 125.4 961.2 125.9 956.9C126.4 952.6 127.5 943.8 128 943.2C128.5 942.6 129.7 947.5 130.2 951.8C130.7 956.1 131.4 970 131.9 977.5C132.4 985 133.8 1004.6 134.5 1011.9C135.2 1019.2 136.3 1031.3 137.1 1036C137.8 1040.7 139.3 1047 140.5 1049.7C141.7 1052.4 145.3 1056.3 146.5 1057.4C147.7 1058.5 149.6 1058.4 150 1058.5Z" fill="#909090" stroke="#222" stroke-width="0.8" stroke-linejoin="round"/>
<rect x="62.5" y="927.5" width="131" height="131" fill="none" stroke="#333" stroke-width="1"/>
<text x="55.6" y="1057.5" font-size="7" font-weight="bold" fill="#333" text-anchor="end">0</text>
<text x="55.6" y="1037.9" font-size="7" font-weight="bold" fill="#333" text-anchor="end">50</text>
<text x="55.6" y="1015.5" font-size="7" font-weight="bold" fill="#333" text-anchor="end">100</text>
<text x="55.6" y="993.1" font-size="7" font-weight="bold" fill="#333" text-anchor="end">150</text>
<text x="55.6" y="970.6" font-size="7" font-weight="bold" fill="#333" text-anchor="end">200</text>
<text x="55.6" y="948.2" font-size="7" font-weight="bold" fill="#333" text-anchor="end">250</text>
<text x="64.6" y="949" font-size="12.8" font-weight="bold" fill="#2222ff" textLength="11.6" lengthAdjust="spacingAndGlyphs">(-)</text>
<text x="64.6" y="966.8" font-size="12.8" font-weight="bold" fill="#2222ff" textLength="22.6" lengthAdjust="spacingAndGlyphs">59.4</text>
<text x="178.9" y="949" font-size="12.8" font-weight="bold" fill="#2222ff" text-anchor="end" textLength="14.5" lengthAdjust="spacingAndGlyphs">(+)</text>
<text x="178.9" y="966.8" font-size="12.8" font-weight="bold" fill="#2222ff" text-anchor="end" textLength="22.6" lengthAdjust="spacingAndGlyphs">40.6</text>
<path d="M246 1058.5C246.3 1058.5 247.7 1058.5 248.7 1058.1C249.7 1057 252.8 1052.5 253.9 1049.7C255 1046.9 256.5 1040.7 257.3 1036C258.1 1031.3 259.6 1019.2 260.4 1011.9C261.2 1004.6 262.6 985 263.4 977.5C264.2 970 266.2 956.4 266.8 951.8C267.4 947.2 268.1 942.1 268.5 940.6C268.9 939.1 269.7 939 270.2 939.7C270.7 940.5 272.1 941.9 272.8 946.6C273.6 951.3 275.3 969.3 276.2 977.5C277.1 985.7 278.8 1005 279.7 1011.9C280.6 1018.8 282.2 1028.6 283.1 1032.5C284 1036.4 285.4 1040.6 286.5 1042.8C287.6 1045 290.2 1048.3 291.7 1049.7C293.2 1051.1 296.7 1052.9 298.6 1054C300.5 1055.1 306.1 1057.9 307.2 1058.5Z" fill="#909090" stroke="#222" stroke-width="0.8" stroke-linejoin="round"/>
<rect x="197.5" y="927.5" width="131" height="131" fill="none" stroke="#333" stroke-width="1"/>
<text x="199.8" y="949" font-size="12.8" font-weight="bold" fill="#2222ff" textLength="11.6" lengthAdjust="spacingAndGlyphs">(-)</text>
<text x="199.8" y="966.8" font-size="12.8" font-weight="bold" fill="#2222ff" textLength="22.6" lengthAdjust="spacingAndGlyphs">21.1</text>
<text x="314.5" y="949" font-size="12.8" font-weight="bold" fill="#2222ff" text-anchor="end" textLength="14.5" lengthAdjust="spacingAndGlyphs">(+)</text>
<text x="314.5" y="966.8" font-size="12.8" font-weight="bold" fill="#2222ff" text-anchor="end" textLength="22.6" lengthAdjust="spacingAndGlyphs">78.9</text>
<path d="M378 1058.5C378.3 1058.5 379.2 1058.5 380.3 1058.1C381.4 1057.4 385.8 1055.4 387.2 1053.1C388.6 1050.8 390.6 1044.6 391.5 1039.4C392.4 1034.2 393.6 1018.6 394.1 1011.9C394.6 1005.2 395.4 991.5 395.8 986.1C396.2 980.7 397 973.9 397.5 969C398 964.1 399.6 950.2 400.1 946.6C400.6 943 401.3 939.2 401.8 940.1C402.3 941 403.9 952.7 404.4 953.5C404.9 954.3 405.6 945.3 406.1 946.6C406.6 947.9 408.1 959.3 408.7 963.8C409.3 968.3 410.4 977.8 411.2 982.7C411.9 987.6 413.6 998.1 414.7 1003.3C415.8 1008.4 418.3 1019.6 419.8 1023.9C421.3 1028.2 424.8 1035.1 426.7 1037.7C428.6 1040.3 433.2 1042.8 435.3 1044.6C437.4 1046.4 441.8 1050.9 443.9 1052.3C446 1053.7 450.6 1054.9 452.5 1055.7C454.4 1056.5 458.4 1058.2 459.3 1058.5Z" fill="#909090" stroke="#222" stroke-width="0.8" stroke-linejoin="round"/>
<rect x="333.5" y="927.5" width="132" height="131" fill="none" stroke="#333" stroke-width="1"/>
<text x="335.9" y="949" font-size="12.8" font-weight="bold" fill="#2222ff" textLength="11.6" lengthAdjust="spacingAndGlyphs">(-)</text>
<text x="335.9" y="966.8" font-size="12.8" font-weight="bold" fill="#2222ff" textLength="22.6" lengthAdjust="spacingAndGlyphs">27.4</text>
<text x="450.7" y="949" font-size="12.8" font-weight="bold" fill="#2222ff" text-anchor="end" textLength="14.5" lengthAdjust="spacingAndGlyphs">(+)</text>
<text x="450.7" y="966.8" font-size="12.8" font-weight="bold" fill="#2222ff" text-anchor="end" textLength="22.6" lengthAdjust="spacingAndGlyphs">72.6</text>
<path d="M105 1194.2C105.2 1194 106.3 1194.2 107 1193C107.7 1191.7 109.8 1187 110.5 1183.7C111.2 1180.4 112.5 1173 113 1166.6C113.5 1160.2 114.4 1140.8 114.8 1132.2C115.2 1123.6 116.1 1104.7 116.5 1097.8C116.9 1090.9 117.4 1080.5 117.7 1077.2C118 1073.9 118.3 1070.3 118.7 1071.2C119.1 1072.1 120.5 1078.6 121.1 1084.1C121.7 1089.6 122.8 1106.8 123.4 1115C124 1123.2 125.3 1141.9 125.9 1149.4C126.5 1156.9 127.8 1170.2 128.5 1175.1C129.2 1180 130.9 1186.7 131.9 1188.9C132.9 1191.1 135.4 1192.3 136.2 1193C137 1193.7 137.8 1194 138 1194.2Z" fill="#909090" stroke="#222" stroke-width="0.8" stroke-linejoin="round"/>
<rect x="62.5" y="1063.5" width="131" height="131" fill="none" stroke="#333" stroke-width="1"/>
<text x="55.6" y="1192.9" font-size="7" font-weight="bold" fill="#333" text-anchor="end">0</text>
<text x="55.6" y="1172.4" font-size="7" font-weight="bold" fill="#333" text-anchor="end">100</text>
<text x="55.6" y="1149.1" font-size="7" font-weight="bold" fill="#333" text-anchor="end">200</text>
<text x="55.6" y="1125.8" font-size="7" font-weight="bold" fill="#333" text-anchor="end">300</text>
<text x="55.6" y="1102.5" font-size="7" font-weight="bold" fill="#333" text-anchor="end">400</text>
<text x="55.6" y="1079.2" font-size="7" font-weight="bold" fill="#333" text-anchor="end">500</text>
<text x="64.7" y="1210" font-size="7" font-weight="bold" fill="#333">10</text>
<text x="72.6" y="1204.5" font-size="6.5" font-weight="bold" fill="#333">2</text>
<text x="86.3" y="1210" font-size="7" font-weight="bold" fill="#333">10</text>
<text x="94.1" y="1204.5" font-size="6.5" font-weight="bold" fill="#333">3</text>
<text x="111.4" y="1210" font-size="7" font-weight="bold" fill="#333">10</text>
<text x="119.2" y="1204.5" font-size="6.5" font-weight="bold" fill="#333">4</text>
<text x="136.4" y="1210" font-size="7" font-weight="bold" fill="#333">10</text>
<text x="144.2" y="1204.5" font-size="6.5" font-weight="bold" fill="#333">5</text>
<text x="161.5" y="1210" font-size="7" font-weight="bold" fill="#333">10</text>
<text x="169.3" y="1204.5" font-size="6.5" font-weight="bold" fill="#333">6</text>
<text x="181.7" y="1210" font-size="7" font-weight="bold" fill="#333">10</text>
<text x="189.5" y="1204.5" font-size="6.5" font-weight="bold" fill="#333">7</text>
<text x="64.6" y="1085.1" font-size="12.8" font-weight="bold" fill="#2222ff" textLength="11.6" lengthAdjust="spacingAndGlyphs">(-)</text>
<text x="64.6" y="1102.9" font-size="12.8" font-weight="bold" fill="#2222ff" textLength="22.6" lengthAdjust="spacingAndGlyphs">59.8</text>
<text x="178.9" y="1085.1" font-size="12.8" font-weight="bold" fill="#2222ff" text-anchor="end" textLength="14.5" lengthAdjust="spacingAndGlyphs">(+)</text>
<text x="178.9" y="1102.9" font-size="12.8" font-weight="bold" fill="#2222ff" text-anchor="end" textLength="22.6" lengthAdjust="spacingAndGlyphs">40.2</text>
<path d="M241 1194.2C241.3 1194 242.8 1194.2 243.6 1193C244.3 1191.3 246.2 1185.8 247 1180.3C247.8 1174.8 249 1157.6 249.6 1149.4C250.2 1141.2 251.3 1122.5 251.8 1115C252.3 1107.5 253.5 1094 253.9 1089.2C254.3 1084.4 254.9 1076.3 255.3 1076.3C255.7 1076.3 256.7 1083.3 257.3 1089.2C257.9 1095.1 259.2 1115 259.9 1123.6C260.5 1132.2 261.9 1150.9 262.5 1158C263.1 1165.1 263.9 1175.9 265.1 1180.3C266.3 1184.7 270.8 1191.3 271.9 1193C273 1194.2 273.7 1194 274 1194.2Z" fill="#909090" stroke="#222" stroke-width="0.8" stroke-linejoin="round"/>
<rect x="197.5" y="1063.5" width="131" height="131" fill="none" stroke="#333" stroke-width="1"/>
<text x="199.9" y="1210" font-size="7" font-weight="bold" fill="#333">10</text>
<text x="207.8" y="1204.5" font-size="6.5" font-weight="bold" fill="#333">2</text>
<text x="221.5" y="1210" font-size="7" font-weight="bold" fill="#333">10</text>
<text x="229.3" y="1204.5" font-size="6.5" font-weight="bold" fill="#333">3</text>
<text x="246.6" y="1210" font-size="7" font-weight="bold" fill="#333">10</text>
<text x="254.4" y="1204.5" font-size="6.5" font-weight="bold" fill="#333">4</text>
<text x="271.6" y="1210" font-size="7" font-weight="bold" fill="#333">10</text>
<text x="279.4" y="1204.5" font-size="6.5" font-weight="bold" fill="#333">5</text>
<text x="296.7" y="1210" font-size="7" font-weight="bold" fill="#333">10</text>
<text x="304.5" y="1204.5" font-size="6.5" font-weight="bold" fill="#333">6</text>
<text x="316.9" y="1210" font-size="7" font-weight="bold" fill="#333">10</text>
<text x="324.7" y="1204.5" font-size="6.5" font-weight="bold" fill="#333">7</text>
<text x="199.8" y="1085.1" font-size="12.8" font-weight="bold" fill="#2222ff" textLength="11.6" lengthAdjust="spacingAndGlyphs">(-)</text>
<text x="199.8" y="1102.9" font-size="12.8" font-weight="bold" fill="#2222ff" textLength="22.6" lengthAdjust="spacingAndGlyphs">60.8</text>
<text x="314.5" y="1085.1" font-size="12.8" font-weight="bold" fill="#2222ff" text-anchor="end" textLength="14.5" lengthAdjust="spacingAndGlyphs">(+)</text>
<text x="314.5" y="1102.9" font-size="12.8" font-weight="bold" fill="#2222ff" text-anchor="end" textLength="22.6" lengthAdjust="spacingAndGlyphs">39.2</text>
<path d="M378 1194.2C378.3 1194 379.5 1194.2 380.3 1193C381.1 1191.5 383.7 1186.4 384.6 1182C385.5 1177.6 386.6 1165.3 387.2 1158C387.8 1150.7 388.7 1132.2 389.2 1123.6C389.7 1115 390.9 1095.2 391.5 1089.2C392.1 1083.2 393.1 1075.5 393.7 1075.5C394.3 1075.5 395.9 1083.2 396.6 1089.2C397.3 1095.2 398.6 1115 399.2 1123.6C399.8 1132.2 401.2 1150.7 401.8 1158C402.4 1165.3 403.2 1177.6 404.4 1182C405.6 1186.4 410.1 1191.5 411.2 1193C412.3 1194.2 412.8 1194 413 1194.2Z" fill="#909090" stroke="#222" stroke-width="0.8" stroke-linejoin="round"/>
<rect x="333.5" y="1063.5" width="132" height="131" fill="none" stroke="#333" stroke-width="1"/>
<text x="336" y="1210" font-size="7" font-weight="bold" fill="#333">10</text>
<text x="343.9" y="1204.5" font-size="6.5" font-weight="bold" fill="#333">2</text>
<text x="357.6" y="1210" font-size="7" font-weight="bold" fill="#333">10</text>
<text x="365.4" y="1204.5" font-size="6.5" font-weight="bold" fill="#333">3</text>
<text x="382.7" y="1210" font-size="7" font-weight="bold" fill="#333">10</text>
<text x="390.5" y="1204.5" font-size="6.5" font-weight="bold" fill="#333">4</text>
<text x="407.7" y="1210" font-size="7" font-weight="bold" fill="#333">10</text>
<text x="415.5" y="1204.5" font-size="6.5" font-weight="bold" fill="#333">5</text>
<text x="432.8" y="1210" font-size="7" font-weight="bold" fill="#333">10</text>
<text x="440.6" y="1204.5" font-size="6.5" font-weight="bold" fill="#333">6</text>
<text x="453" y="1210" font-size="7" font-weight="bold" fill="#333">10</text>
<text x="460.8" y="1204.5" font-size="6.5" font-weight="bold" fill="#333">7</text>
<text x="335.9" y="1085.1" font-size="12.8" font-weight="bold" fill="#2222ff" textLength="11.6" lengthAdjust="spacingAndGlyphs">(-)</text>
<text x="335.9" y="1102.9" font-size="12.8" font-weight="bold" fill="#2222ff" textLength="22.6" lengthAdjust="spacingAndGlyphs">33.0</text>
<text x="450.7" y="1085.1" font-size="12.8" font-weight="bold" fill="#2222ff" text-anchor="end" textLength="14.5" lengthAdjust="spacingAndGlyphs">(+)</text>
<text x="450.7" y="1102.9" font-size="12.8" font-weight="bold" fill="#2222ff" text-anchor="end" textLength="22.6" lengthAdjust="spacingAndGlyphs">67.0</text>
<path d="M533 1058.5C533.3 1058.5 534.5 1058.5 535.3 1058.1C536.1 1057 538.7 1052.9 539.6 1049.7C540.5 1046.5 541.6 1038.3 542.2 1032.5C542.8 1026.7 543.7 1011.2 544.2 1003.3C544.7 995.4 546 976.1 546.5 969C547 961.9 547.7 950.4 548.2 946.6C548.7 942.8 550.1 938.9 550.8 938.9C551.4 938.9 552.9 942.8 553.4 946.6C553.9 950.4 554.6 961.9 555.1 969C555.6 976.1 556.8 995.4 557.3 1003.3C557.8 1011.2 558.8 1026.7 559.4 1032.5C560 1038.3 560.9 1046.5 561.9 1049.7C562.9 1052.9 566.2 1057 567.1 1058.1C568 1058.5 568.8 1058.5 569 1058.5Z" fill="#909090" stroke="#222" stroke-width="0.8" stroke-linejoin="round"/>
<rect x="492.5" y="927.5" width="132" height="131" fill="none" stroke="#333" stroke-width="1"/>
<text x="485.4" y="1057.7" font-size="7" font-weight="bold" fill="#333" text-anchor="end">0</text>
<text x="485.4" y="1035.9" font-size="7" font-weight="bold" fill="#333" text-anchor="end">100</text>
<text x="485.4" y="1011.2" font-size="7" font-weight="bold" fill="#333" text-anchor="end">200</text>
<text x="485.4" y="986.6" font-size="7" font-weight="bold" fill="#333" text-anchor="end">300</text>
<text x="485.4" y="962" font-size="7" font-weight="bold" fill="#333" text-anchor="end">400</text>
<text x="485.4" y="937.3" font-size="7" font-weight="bold" fill="#333" text-anchor="end">500</text>
<text x="494.4" y="949" font-size="12.8" font-weight="bold" fill="#2222ff" textLength="11.6" lengthAdjust="spacingAndGlyphs">(-)</text>
<text x="494.4" y="966.8" font-size="12.8" font-weight="bold" fill="#2222ff" textLength="22.6" lengthAdjust="spacingAndGlyphs">60.0</text>
<text x="609.8" y="949" font-size="12.8" font-weight="bold" fill="#2222ff" text-anchor="end" textLength="14.5" lengthAdjust="spacingAndGlyphs">(+)</text>
<text x="609.8" y="966.8" font-size="12.8" font-weight="bold" fill="#2222ff" text-anchor="end" textLength="22.6" lengthAdjust="spacingAndGlyphs">40.0</text>
<path d="M668 1058.5C668.3 1058.5 669.5 1058.5 670.5 1058.1C671.5 1057 674.4 1052.9 675.6 1049.7C676.8 1046.5 678.9 1038.3 679.9 1032.5C680.9 1026.7 682.6 1011.2 683.4 1003.3C684.1 995.4 685.3 975.9 685.9 969C686.5 962.1 687.8 952.2 688.5 948.3C689.2 944.4 690.8 938.2 691.4 938C692 937.8 693.1 941.7 693.7 946.6C694.3 951.5 695.6 970.4 696.2 977.5C696.8 984.6 698 997.3 698.8 1003.3C699.6 1009.3 701.3 1021.2 702.3 1025.7C703.3 1030.2 705.3 1036.4 706.5 1039.4C707.7 1042.4 710.2 1047.7 711.7 1049.7C713.2 1051.7 716.7 1054.6 718.6 1055.7C720.5 1056.8 726.1 1058.2 727.2 1058.5Z" fill="#909090" stroke="#222" stroke-width="0.8" stroke-linejoin="round"/>
<rect x="628.5" y="927.5" width="131" height="131" fill="none" stroke="#333" stroke-width="1"/>
<text x="630.7" y="949" font-size="12.8" font-weight="bold" fill="#2222ff" textLength="11.6" lengthAdjust="spacingAndGlyphs">(-)</text>
<text x="630.7" y="966.8" font-size="12.8" font-weight="bold" fill="#2222ff" textLength="22.6" lengthAdjust="spacingAndGlyphs">24.4</text>
<text x="745.4" y="949" font-size="12.8" font-weight="bold" fill="#2222ff" text-anchor="end" textLength="14.5" lengthAdjust="spacingAndGlyphs">(+)</text>
<text x="745.4" y="966.8" font-size="12.8" font-weight="bold" fill="#2222ff" text-anchor="end" textLength="22.6" lengthAdjust="spacingAndGlyphs">75.6</text>
<path d="M810 1058.5C810.3 1058.5 811.4 1058.5 812.2 1058.1C813 1057 815.6 1053.3 816.5 1049.7C817.4 1046.1 818.5 1034.9 819.1 1029.1C819.7 1023.3 821 1009.8 821.6 1003.3C822.2 996.8 823.6 983.9 824.2 977.5C824.9 971.1 826.1 957.2 826.8 951.8C827.4 946.4 828.8 936.1 829.4 934.6C830 933.1 831 935.8 831.9 939.7C832.8 943.6 835.1 959.7 836.2 965.5C837.3 971.3 839.5 981.2 840.5 986.1C841.5 991 843 999.8 844 1005C845 1010.2 847.1 1022.7 848.3 1027.4C849.5 1032.1 851.9 1039.6 853.4 1042.8C854.9 1046 858.4 1051.1 860.3 1053.1C862.2 1055.1 867.8 1057.8 868.9 1058.5Z" fill="#909090" stroke="#222" stroke-width="0.8" stroke-linejoin="round"/>
<rect x="763.5" y="927.5" width="132" height="131" fill="none" stroke="#333" stroke-width="1"/>
<text x="765.9" y="949" font-size="12.8" font-weight="bold" fill="#2222ff" textLength="11.6" lengthAdjust="spacingAndGlyphs">(-)</text>
<text x="765.9" y="966.8" font-size="12.8" font-weight="bold" fill="#2222ff" textLength="22.6" lengthAdjust="spacingAndGlyphs">8.14</text>
<text x="881" y="949" font-size="12.8" font-weight="bold" fill="#2222ff" text-anchor="end" textLength="14.5" lengthAdjust="spacingAndGlyphs">(+)</text>
<text x="881" y="966.8" font-size="12.8" font-weight="bold" fill="#2222ff" text-anchor="end" textLength="22.6" lengthAdjust="spacingAndGlyphs">91.9</text>
<path d="M533 1194.2C533.3 1194 534.5 1194.2 535.3 1193C536.1 1191.5 538.6 1186.4 539.6 1182C540.6 1177.6 542.2 1166.4 543 1158C543.8 1149.6 545 1123.6 545.6 1115C546.2 1106.4 547.5 1094.7 548.2 1089.2C548.9 1083.7 550.5 1071.2 551.1 1071.2C551.8 1071.2 552.8 1082.7 553.4 1089.2C554 1095.8 555.3 1115 555.9 1123.6C556.5 1132.2 557.8 1150.7 558.5 1158C559.2 1165.3 560.8 1177.6 561.9 1182C563 1186.4 566.2 1191.5 567.1 1193C568 1194.2 568.8 1194 569 1194.2Z" fill="#909090" stroke="#222" stroke-width="0.8" stroke-linejoin="round"/>
<rect x="492.5" y="1063.5" width="132" height="131" fill="none" stroke="#333" stroke-width="1"/>
<text x="485.4" y="1192.7" font-size="7" font-weight="bold" fill="#333" text-anchor="end">0</text>
<text x="485.4" y="1170.3" font-size="7" font-weight="bold" fill="#333" text-anchor="end">100</text>
<text x="485.4" y="1145.1" font-size="7" font-weight="bold" fill="#333" text-anchor="end">200</text>
<text x="485.4" y="1119.9" font-size="7" font-weight="bold" fill="#333" text-anchor="end">300</text>
<text x="485.4" y="1094.7" font-size="7" font-weight="bold" fill="#333" text-anchor="end">400</text>
<text x="485.4" y="1069.5" font-size="7" font-weight="bold" fill="#333" text-anchor="end">500</text>
<text x="494.5" y="1210" font-size="7" font-weight="bold" fill="#333">10</text>
<text x="502.4" y="1204.5" font-size="6.5" font-weight="bold" fill="#333">2</text>
<text x="516.1" y="1210" font-size="7" font-weight="bold" fill="#333">10</text>
<text x="523.9" y="1204.5" font-size="6.5" font-weight="bold" fill="#333">3</text>
<text x="541.2" y="1210" font-size="7" font-weight="bold" fill="#333">10</text>
<text x="549" y="1204.5" font-size="6.5" font-weight="bold" fill="#333">4</text>
<text x="566.2" y="1210" font-size="7" font-weight="bold" fill="#333">10</text>
<text x="574" y="1204.5" font-size="6.5" font-weight="bold" fill="#333">5</text>
<text x="591.3" y="1210" font-size="7" font-weight="bold" fill="#333">10</text>
<text x="599.1" y="1204.5" font-size="6.5" font-weight="bold" fill="#333">6</text>
<text x="611.5" y="1210" font-size="7" font-weight="bold" fill="#333">10</text>
<text x="619.3" y="1204.5" font-size="6.5" font-weight="bold" fill="#333">7</text>
<text x="494.4" y="1085.1" font-size="12.8" font-weight="bold" fill="#2222ff" textLength="11.6" lengthAdjust="spacingAndGlyphs">(-)</text>
<text x="494.4" y="1102.9" font-size="12.8" font-weight="bold" fill="#2222ff" textLength="22.6" lengthAdjust="spacingAndGlyphs">60.0</text>
<text x="609.8" y="1085.1" font-size="12.8" font-weight="bold" fill="#2222ff" text-anchor="end" textLength="14.5" lengthAdjust="spacingAndGlyphs">(+)</text>
<text x="609.8" y="1102.9" font-size="12.8" font-weight="bold" fill="#2222ff" text-anchor="end" textLength="22.6" lengthAdjust="spacingAndGlyphs">40.0</text>
<path d="M670 1194.2C670.3 1194 671.4 1194.2 672.2 1193C673 1191.5 675.6 1186.4 676.5 1182C677.4 1177.6 678.5 1165.3 679.1 1158C679.7 1150.7 681 1132.2 681.6 1123.6C682.2 1115 683.4 1095.5 683.9 1089.2C684.4 1082.9 685.2 1073.1 685.9 1072.9C686.6 1072.7 688.6 1081.2 689.4 1087.5C690.1 1093.8 691.3 1114.8 691.9 1123.6C692.5 1132.4 693.7 1150.7 694.5 1158C695.3 1165.3 696.9 1177.6 698 1182C699.1 1186.4 702.2 1191.5 703.1 1193C704 1194.2 704.8 1194 705 1194.2Z" fill="#909090" stroke="#222" stroke-width="0.8" stroke-linejoin="round"/>
<rect x="628.5" y="1063.5" width="131" height="131" fill="none" stroke="#333" stroke-width="1"/>
<text x="630.8" y="1210" font-size="7" font-weight="bold" fill="#333">10</text>
<text x="638.7" y="1204.5" font-size="6.5" font-weight="bold" fill="#333">2</text>
<text x="652.4" y="1210" font-size="7" font-weight="bold" fill="#333">10</text>
<text x="660.2" y="1204.5" font-size="6.5" font-weight="bold" fill="#333">3</text>
<text x="677.5" y="1210" font-size="7" font-weight="bold" fill="#333">10</text>
<text x="685.3" y="1204.5" font-size="6.5" font-weight="bold" fill="#333">4</text>
<text x="702.5" y="1210" font-size="7" font-weight="bold" fill="#333">10</text>
<text x="710.3" y="1204.5" font-size="6.5" font-weight="bold" fill="#333">5</text>
<text x="727.6" y="1210" font-size="7" font-weight="bold" fill="#333">10</text>
<text x="735.4" y="1204.5" font-size="6.5" font-weight="bold" fill="#333">6</text>
<text x="747.8" y="1210" font-size="7" font-weight="bold" fill="#333">10</text>
<text x="755.6" y="1204.5" font-size="6.5" font-weight="bold" fill="#333">7</text>
<text x="630.7" y="1085.1" font-size="12.8" font-weight="bold" fill="#2222ff" textLength="11.6" lengthAdjust="spacingAndGlyphs">(-)</text>
<text x="630.7" y="1102.9" font-size="12.8" font-weight="bold" fill="#2222ff" textLength="22.6" lengthAdjust="spacingAndGlyphs">61.0</text>
<text x="745.4" y="1085.1" font-size="12.8" font-weight="bold" fill="#2222ff" text-anchor="end" textLength="14.5" lengthAdjust="spacingAndGlyphs">(+)</text>
<text x="745.4" y="1102.9" font-size="12.8" font-weight="bold" fill="#2222ff" text-anchor="end" textLength="22.6" lengthAdjust="spacingAndGlyphs">39.0</text>
<path d="M806 1194.2C806.3 1194 807.8 1194.2 808.7 1193C809.6 1191.5 812.1 1186.4 813 1182C813.9 1177.6 815 1165.3 815.6 1158C816.2 1150.7 817.6 1132.2 818.2 1123.6C818.9 1115 820.1 1095.9 820.8 1089.2C821.4 1082.5 822.8 1070.3 823.4 1070.3C824 1070.3 825.3 1082.5 825.9 1089.2C826.5 1095.9 827.9 1115 828.5 1123.6C829.1 1132.2 830.4 1150.7 831.1 1158C831.9 1165.3 833.4 1177.6 834.5 1182C835.6 1186.4 838.8 1191.5 839.7 1193C840.6 1194.2 841.7 1194 842 1194.2Z" fill="#909090" stroke="#222" stroke-width="0.8" stroke-linejoin="round"/>
<rect x="763.5" y="1063.5" width="132" height="131" fill="none" stroke="#333" stroke-width="1"/>
<text x="766" y="1210" font-size="7" font-weight="bold" fill="#333">10</text>
<text x="773.9" y="1204.5" font-size="6.5" font-weight="bold" fill="#333">2</text>
<text x="787.6" y="1210" font-size="7" font-weight="bold" fill="#333">10</text>
<text x="795.4" y="1204.5" font-size="6.5" font-weight="bold" fill="#333">3</text>
<text x="812.7" y="1210" font-size="7" font-weight="bold" fill="#333">10</text>
<text x="820.5" y="1204.5" font-size="6.5" font-weight="bold" fill="#333">4</text>
<text x="837.7" y="1210" font-size="7" font-weight="bold" fill="#333">10</text>
<text x="845.5" y="1204.5" font-size="6.5" font-weight="bold" fill="#333">5</text>
<text x="862.8" y="1210" font-size="7" font-weight="bold" fill="#333">10</text>
<text x="870.6" y="1204.5" font-size="6.5" font-weight="bold" fill="#333">6</text>
<text x="883" y="1210" font-size="7" font-weight="bold" fill="#333">10</text>
<text x="890.8" y="1204.5" font-size="6.5" font-weight="bold" fill="#333">7</text>
<text x="765.9" y="1085.1" font-size="12.8" font-weight="bold" fill="#2222ff" textLength="11.6" lengthAdjust="spacingAndGlyphs">(-)</text>
<text x="765.9" y="1102.9" font-size="12.8" font-weight="bold" fill="#2222ff" textLength="22.6" lengthAdjust="spacingAndGlyphs">54.5</text>
<text x="881" y="1085.1" font-size="12.8" font-weight="bold" fill="#2222ff" text-anchor="end" textLength="14.5" lengthAdjust="spacingAndGlyphs">(+)</text>
<text x="881" y="1102.9" font-size="12.8" font-weight="bold" fill="#2222ff" text-anchor="end" textLength="22.6" lengthAdjust="spacingAndGlyphs">45.5</text>
<path d="M957 1058.5C957.3 1058.5 958.7 1058.5 959.5 1058.1C960.3 1057 962.9 1052.9 963.7 1049.7C964.6 1046.5 965.6 1038.3 966.3 1032.5C966.9 1026.7 968.3 1010.2 968.9 1003.3C969.5 996.4 970.5 983.3 971 977.5C971.5 971.7 972.1 961.8 972.7 956.9C973.3 952 975.1 939 975.8 938.4C976.5 937.8 977.9 946.9 978.4 951.8C978.9 956.7 979.6 970.4 980.1 977.5C980.6 984.6 982 1001.4 982.6 1008.5C983.2 1015.6 984.4 1029 985.2 1034.2C986 1039.4 987.5 1046.9 988.7 1049.7C989.9 1052.5 992.2 1055.8 994.7 1056.9C997.2 1058 1006.7 1058.3 1008.4 1058.5Z" fill="#909090" stroke="#222" stroke-width="0.8" stroke-linejoin="round"/>
<rect x="921.5" y="927.5" width="132" height="131" fill="none" stroke="#333" stroke-width="1"/>
<text x="915.1" y="1057.7" font-size="7" font-weight="bold" fill="#333" text-anchor="end">0</text>
<text x="915.1" y="1032.5" font-size="7" font-weight="bold" fill="#333" text-anchor="end">100</text>
<text x="915.1" y="1004.5" font-size="7" font-weight="bold" fill="#333" text-anchor="end">200</text>
<text x="915.1" y="976.5" font-size="7" font-weight="bold" fill="#333" text-anchor="end">300</text>
<text x="915.1" y="948.5" font-size="7" font-weight="bold" fill="#333" text-anchor="end">400</text>
<text x="924.1" y="949" font-size="12.8" font-weight="bold" fill="#2222ff" textLength="11.6" lengthAdjust="spacingAndGlyphs">(-)</text>
<text x="924.1" y="966.8" font-size="12.8" font-weight="bold" fill="#2222ff" textLength="22.6" lengthAdjust="spacingAndGlyphs">63.3</text>
<text x="1039" y="949" font-size="12.8" font-weight="bold" fill="#2222ff" text-anchor="end" textLength="14.5" lengthAdjust="spacingAndGlyphs">(+)</text>
<text x="1039" y="966.8" font-size="12.8" font-weight="bold" fill="#2222ff" text-anchor="end" textLength="22.6" lengthAdjust="spacingAndGlyphs">36.7</text>
<path d="M1094 1058.5C1094.4 1058.5 1096.1 1058.5 1097 1058.1C1097.9 1057 1100.4 1052.9 1101.3 1049.7C1102.2 1046.5 1103.2 1038.3 1103.9 1032.5C1104.6 1026.7 1105.9 1010.2 1106.5 1003.3C1107.1 996.4 1108.2 983.9 1108.7 977.5C1109.2 971.1 1109.9 956.7 1110.4 951.8C1110.9 946.9 1111.8 938 1112.5 938C1113.2 938 1115 946.9 1115.6 951.8C1116.2 956.7 1116.8 970.4 1117.3 977.5C1117.8 984.6 1118.9 1001.4 1119.4 1008.5C1119.9 1015.6 1120.7 1028.8 1121.4 1034.2C1122.2 1039.6 1124.2 1048.5 1125.4 1051.4C1126.7 1054.3 1129.4 1056.3 1131.4 1057.2C1133.4 1058.1 1140.4 1058.3 1141.7 1058.5Z" fill="#909090" stroke="#222" stroke-width="0.8" stroke-linejoin="round"/>
<rect x="1057.5" y="927.5" width="131" height="131" fill="none" stroke="#333" stroke-width="1"/>
<text x="1059.8" y="949" font-size="12.8" font-weight="bold" fill="#2222ff" textLength="11.6" lengthAdjust="spacingAndGlyphs">(-)</text>
<text x="1059.8" y="966.8" font-size="12.8" font-weight="bold" fill="#2222ff" textLength="22.6" lengthAdjust="spacingAndGlyphs">52.0</text>
<text x="1174.4" y="949" font-size="12.8" font-weight="bold" fill="#2222ff" text-anchor="end" textLength="14.5" lengthAdjust="spacingAndGlyphs">(+)</text>
<text x="1174.4" y="966.8" font-size="12.8" font-weight="bold" fill="#2222ff" text-anchor="end" textLength="22.6" lengthAdjust="spacingAndGlyphs">48.0</text>
<path d="M1232 1058.5C1232.3 1058.5 1233.7 1058.5 1234.6 1058.1C1235.5 1057 1238 1052.9 1238.9 1049.7C1239.8 1046.5 1240.8 1038.3 1241.5 1032.5C1242.2 1026.7 1243.5 1010.2 1244.1 1003.3C1244.7 996.4 1245.6 983.9 1246.1 977.5C1246.6 971.1 1247.8 956.5 1248.4 951.8C1249 947.1 1250 939.7 1250.6 939.7C1251.2 939.7 1252.5 947.1 1253 951.8C1253.5 956.5 1254 970.4 1254.4 977.5C1254.8 984.6 1255.6 1001.4 1256.1 1008.5C1256.6 1015.6 1258 1028.9 1258.7 1034.2C1259.5 1039.5 1261 1047.9 1262.1 1050.6C1263.2 1053.3 1265.5 1055.2 1267.3 1056C1269.1 1056.8 1274 1056.6 1276.7 1056.9C1279.4 1057.2 1287.2 1058.3 1288.7 1058.5Z" fill="#909090" stroke="#222" stroke-width="0.8" stroke-linejoin="round"/>
<rect x="1193.5" y="927.5" width="131" height="131" fill="none" stroke="#333" stroke-width="1"/>
<text x="1195.9" y="949" font-size="12.8" font-weight="bold" fill="#2222ff" textLength="11.6" lengthAdjust="spacingAndGlyphs">(-)</text>
<text x="1195.9" y="966.8" font-size="12.8" font-weight="bold" fill="#2222ff" textLength="22.6" lengthAdjust="spacingAndGlyphs">39.0</text>
<text x="1310.4" y="949" font-size="12.8" font-weight="bold" fill="#2222ff" text-anchor="end" textLength="14.5" lengthAdjust="spacingAndGlyphs">(+)</text>
<text x="1310.4" y="966.8" font-size="12.8" font-weight="bold" fill="#2222ff" text-anchor="end" textLength="22.6" lengthAdjust="spacingAndGlyphs">61.0</text>
<path d="M954 1194.2C954.4 1194 956 1194.2 956.9 1193C957.8 1191.5 960.2 1186.4 961.2 1182C962.2 1177.6 963.9 1165.3 964.6 1158C965.4 1150.7 966.6 1132.2 967.2 1123.6C967.9 1115 969.3 1094.8 969.8 1089.2C970.3 1083.6 971.1 1081.2 971.5 1078.9C971.9 1076.7 972.7 1069.9 973.2 1071.2C973.7 1072.5 975.3 1082.7 975.8 1089.2C976.3 1095.8 977 1115 977.5 1123.6C978 1132.2 979.4 1150.7 980.1 1158C980.9 1165.3 982.4 1178.2 983.5 1182C984.6 1185.8 987.1 1186.8 988.7 1188C990.3 1189.2 993.9 1190.5 996.4 1191.3C998.9 1192.1 1006.9 1193.8 1008.4 1194.2Z" fill="#909090" stroke="#222" stroke-width="0.8" stroke-linejoin="round"/>
<rect x="921.5" y="1063.5" width="132" height="131" fill="none" stroke="#333" stroke-width="1"/>
<text x="915.1" y="1193" font-size="7" font-weight="bold" fill="#333" text-anchor="end">0</text>
<text x="915.1" y="1168.7" font-size="7" font-weight="bold" fill="#333" text-anchor="end">100</text>
<text x="915.1" y="1141.6" font-size="7" font-weight="bold" fill="#333" text-anchor="end">200</text>
<text x="915.1" y="1114.5" font-size="7" font-weight="bold" fill="#333" text-anchor="end">300</text>
<text x="915.1" y="1087.4" font-size="7" font-weight="bold" fill="#333" text-anchor="end">400</text>
<text x="924.2" y="1210" font-size="7" font-weight="bold" fill="#333">10</text>
<text x="932.1" y="1204.5" font-size="6.5" font-weight="bold" fill="#333">2</text>
<text x="945.8" y="1210" font-size="7" font-weight="bold" fill="#333">10</text>
<text x="953.6" y="1204.5" font-size="6.5" font-weight="bold" fill="#333">3</text>
<text x="970.9" y="1210" font-size="7" font-weight="bold" fill="#333">10</text>
<text x="978.7" y="1204.5" font-size="6.5" font-weight="bold" fill="#333">4</text>
<text x="995.9" y="1210" font-size="7" font-weight="bold" fill="#333">10</text>
<text x="1003.7" y="1204.5" font-size="6.5" font-weight="bold" fill="#333">5</text>
<text x="1021" y="1210" font-size="7" font-weight="bold" fill="#333">10</text>
<text x="1028.8" y="1204.5" font-size="6.5" font-weight="bold" fill="#333">6</text>
<text x="1041.2" y="1210" font-size="7" font-weight="bold" fill="#333">10</text>
<text x="1049" y="1204.5" font-size="6.5" font-weight="bold" fill="#333">7</text>
<text x="924.1" y="1085.1" font-size="12.8" font-weight="bold" fill="#2222ff" textLength="11.6" lengthAdjust="spacingAndGlyphs">(-)</text>
<text x="924.1" y="1102.9" font-size="12.8" font-weight="bold" fill="#2222ff" textLength="22.6" lengthAdjust="spacingAndGlyphs">60.4</text>
<text x="1039" y="1085.1" font-size="12.8" font-weight="bold" fill="#2222ff" text-anchor="end" textLength="14.5" lengthAdjust="spacingAndGlyphs">(+)</text>
<text x="1039" y="1102.9" font-size="12.8" font-weight="bold" fill="#2222ff" text-anchor="end" textLength="22.6" lengthAdjust="spacingAndGlyphs">39.6</text>
<path d="M1090 1194.2C1090.3 1194 1091.8 1194.2 1092.7 1193C1093.6 1191.5 1096 1186.4 1097 1182C1098 1177.6 1099.8 1165.3 1100.5 1158C1101.2 1150.7 1102.1 1132.2 1102.7 1123.6C1103.3 1115 1104.5 1095.5 1105.3 1089.2C1106 1082.9 1107.9 1072.9 1108.7 1072.9C1109.5 1072.9 1111 1082.9 1111.6 1089.2C1112.2 1095.5 1112.9 1115 1113.4 1123.6C1113.9 1132.2 1115.2 1150.9 1115.9 1158C1116.7 1165.1 1118.3 1176.4 1119.4 1180.3C1120.5 1184.2 1122.6 1187.4 1124.5 1188.9C1126.4 1190.4 1132.4 1191.4 1134.8 1192.1C1137.2 1192.8 1142.3 1193.9 1143.4 1194.2Z" fill="#909090" stroke="#222" stroke-width="0.8" stroke-linejoin="round"/>
<rect x="1057.5" y="1063.5" width="131" height="131" fill="none" stroke="#333" stroke-width="1"/>
<text x="1059.9" y="1210" font-size="7" font-weight="bold" fill="#333">10</text>
<text x="1067.8" y="1204.5" font-size="6.5" font-weight="bold" fill="#333">2</text>
<text x="1081.5" y="1210" font-size="7" font-weight="bold" fill="#333">10</text>
<text x="1089.3" y="1204.5" font-size="6.5" font-weight="bold" fill="#333">3</text>
<text x="1106.6" y="1210" font-size="7" font-weight="bold" fill="#333">10</text>
<text x="1114.4" y="1204.5" font-size="6.5" font-weight="bold" fill="#333">4</text>
<text x="1131.6" y="1210" font-size="7" font-weight="bold" fill="#333">10</text>
<text x="1139.4" y="1204.5" font-size="6.5" font-weight="bold" fill="#333">5</text>
<text x="1156.7" y="1210" font-size="7" font-weight="bold" fill="#333">10</text>
<text x="1164.5" y="1204.5" font-size="6.5" font-weight="bold" fill="#333">6</text>
<text x="1176.9" y="1210" font-size="7" font-weight="bold" fill="#333">10</text>
<text x="1184.7" y="1204.5" font-size="6.5" font-weight="bold" fill="#333">7</text>
<text x="1059.8" y="1085.1" font-size="12.8" font-weight="bold" fill="#2222ff" textLength="11.6" lengthAdjust="spacingAndGlyphs">(-)</text>
<text x="1059.8" y="1102.9" font-size="12.8" font-weight="bold" fill="#2222ff" textLength="22.6" lengthAdjust="spacingAndGlyphs">58.4</text>
<text x="1174.4" y="1085.1" font-size="12.8" font-weight="bold" fill="#2222ff" text-anchor="end" textLength="14.5" lengthAdjust="spacingAndGlyphs">(+)</text>
<text x="1174.4" y="1102.9" font-size="12.8" font-weight="bold" fill="#2222ff" text-anchor="end" textLength="22.6" lengthAdjust="spacingAndGlyphs">41.6</text>
<path d="M1228 1194.2C1228.3 1194 1229.5 1194.2 1230.3 1193C1231.1 1191.5 1233.7 1186.4 1234.6 1182C1235.5 1177.6 1237 1165.3 1237.7 1158C1238.4 1150.7 1239.2 1132.2 1239.8 1123.6C1240.4 1115 1241.6 1095.5 1242.3 1089.2C1243 1082.9 1244.6 1072.9 1245.4 1072.9C1246.2 1072.9 1247.8 1082.9 1248.4 1089.2C1249 1095.5 1249.6 1115 1250.1 1123.6C1250.6 1132.2 1251.8 1150.7 1252.6 1158C1253.3 1165.3 1255 1178.1 1256.1 1182C1257.2 1185.9 1259.3 1187.6 1261.2 1188.9C1263.1 1190.2 1268.7 1191.4 1271.5 1192.1C1274.3 1192.8 1282.1 1193.9 1283.6 1194.2Z" fill="#909090" stroke="#222" stroke-width="0.8" stroke-linejoin="round"/>
<rect x="1193.5" y="1063.5" width="131" height="131" fill="none" stroke="#333" stroke-width="1"/>
<text x="1196" y="1210" font-size="7" font-weight="bold" fill="#333">10</text>
<text x="1203.9" y="1204.5" font-size="6.5" font-weight="bold" fill="#333">2</text>
<text x="1217.6" y="1210" font-size="7" font-weight="bold" fill="#333">10</text>
<text x="1225.4" y="1204.5" font-size="6.5" font-weight="bold" fill="#333">3</text>
<text x="1242.7" y="1210" font-size="7" font-weight="bold" fill="#333">10</text>
<text x="1250.5" y="1204.5" font-size="6.5" font-weight="bold" fill="#333">4</text>
<text x="1267.7" y="1210" font-size="7" font-weight="bold" fill="#333">10</text>
<text x="1275.5" y="1204.5" font-size="6.5" font-weight="bold" fill="#333">5</text>
<text x="1292.8" y="1210" font-size="7" font-weight="bold" fill="#333">10</text>
<text x="1300.6" y="1204.5" font-size="6.5" font-weight="bold" fill="#333">6</text>
<text x="1313" y="1210" font-size="7" font-weight="bold" fill="#333">10</text>
<text x="1320.8" y="1204.5" font-size="6.5" font-weight="bold" fill="#333">7</text>
<text x="1195.9" y="1085.1" font-size="12.8" font-weight="bold" fill="#2222ff" textLength="11.6" lengthAdjust="spacingAndGlyphs">(-)</text>
<text x="1195.9" y="1102.9" font-size="12.8" font-weight="bold" fill="#2222ff" textLength="22.6" lengthAdjust="spacingAndGlyphs">53.9</text>
<text x="1310.4" y="1085.1" font-size="12.8" font-weight="bold" fill="#2222ff" text-anchor="end" textLength="14.5" lengthAdjust="spacingAndGlyphs">(+)</text>
<text x="1310.4" y="1102.9" font-size="12.8" font-weight="bold" fill="#2222ff" text-anchor="end" textLength="22.6" lengthAdjust="spacingAndGlyphs">46.1</text>
<text x="36.6" y="1103" font-size="33" transform="rotate(-90 36.6 1103)" textLength="89" lengthAdjust="spacingAndGlyphs" stroke="#000" stroke-width="0.8">Count</text>
<text x="1355" y="994.9" font-size="20" text-anchor="middle" transform="rotate(-90 1355 994.9)" textLength="36.2" lengthAdjust="spacingAndGlyphs" stroke="#000" stroke-width="0.6">SK1</text>
<text x="1355" y="1134.4" font-size="20" text-anchor="middle" transform="rotate(-90 1355 1134.4)" textLength="87.9" lengthAdjust="spacingAndGlyphs" stroke="#000" stroke-width="0.6">NAC/SK1</text>
<text x="598.5" y="1248.7" font-size="28.6" font-weight="bold" textLength="198" lengthAdjust="spacingAndGlyphs">ROS intensity</text>
<rect x="114.5" y="1264.5" width="323" height="230" fill="none" stroke="#222" stroke-width="1.6"/>
<text x="103.5" y="1500" font-size="16" font-weight="bold" fill="#222" text-anchor="end">0</text>
<text x="103.5" y="1461.4" font-size="16" font-weight="bold" fill="#222" text-anchor="end">20</text>
<text x="103.5" y="1422.9" font-size="16" font-weight="bold" fill="#222" text-anchor="end">40</text>
<text x="103.5" y="1384.4" font-size="16" font-weight="bold" fill="#222" text-anchor="end">60</text>
<text x="103.5" y="1345.9" font-size="16" font-weight="bold" fill="#222" text-anchor="end">80</text>
<text x="103.5" y="1307.4" font-size="16" font-weight="bold" fill="#222" text-anchor="end">100</text>
<rect x="156.5" y="1417.5" width="23" height="77" fill="#000" stroke="#111" stroke-width="1.5"/>
<rect x="188.5" y="1417.5" width="23" height="77" fill="#bdbdbd" stroke="#111" stroke-width="1.5"/>
<rect x="248.5" y="1320.5" width="23" height="174" fill="#000" stroke="#111" stroke-width="1.5"/>
<rect x="280.5" y="1407.5" width="23" height="87" fill="#bdbdbd" stroke="#111" stroke-width="1.5"/>
<rect x="339.5" y="1319.5" width="23" height="175" fill="#000" stroke="#111" stroke-width="1.5"/>
<rect x="371.5" y="1356.5" width="23" height="138" fill="#bdbdbd" stroke="#111" stroke-width="1.5"/>
<text x="167.2" y="1398.7" font-size="23.5" font-weight="bold" fill="#111" text-anchor="middle">c</text>
<text x="199.2" y="1398.7" font-size="23.5" font-weight="bold" fill="#111" text-anchor="middle">c</text>
<text x="258.2" y="1309" font-size="23.5" font-weight="bold" fill="#111" text-anchor="middle">a</text>
<text x="292.2" y="1389" font-size="23.5" font-weight="bold" fill="#111" text-anchor="middle">c</text>
<text x="352.1" y="1309" font-size="23.5" font-weight="bold" fill="#111" text-anchor="middle">a</text>
<text x="383.2" y="1339.4" font-size="23.5" font-weight="bold" fill="#111" text-anchor="middle">b</text>
<text x="183.8" y="1521.5" font-size="16" font-weight="bold" fill="#222" text-anchor="middle">0</text>
<text x="275.2" y="1521.5" font-size="16" font-weight="bold" fill="#222" text-anchor="middle">12</text>
<text x="367.2" y="1521.5" font-size="16" font-weight="bold" fill="#222" text-anchor="middle">24</text>
<text x="235" y="1546" font-size="20.5" font-weight="bold" fill="#222" textLength="80.3" lengthAdjust="spacingAndGlyphs">Time (h)</text>
<text x="62.2" y="1378.6" font-size="21" fill="#222" text-anchor="middle" transform="rotate(-90 62.2 1378.6)" textLength="117" lengthAdjust="spacingAndGlyphs" stroke="#222" stroke-width="0.5">ROS (+) (%)</text>
<rect x="124.5" y="1278.5" width="34" height="8" fill="#000" stroke="#111" stroke-width="1.2"/>
<rect x="124.5" y="1296.5" width="34" height="8" fill="#bdbdbd" stroke="#111" stroke-width="1.2"/>
<text x="166.2" y="1287.7" font-size="14" font-weight="bold" fill="#222" textLength="27.3" lengthAdjust="spacingAndGlyphs">SK1</text>
<text x="166.2" y="1305.7" font-size="14" font-weight="bold" fill="#222" textLength="61" lengthAdjust="spacingAndGlyphs">NAC/SK1</text>
<text x="357.6" y="1290.4" font-size="22.5" font-weight="bold" fill="#222" textLength="71.4" lengthAdjust="spacingAndGlyphs">Ca9-22</text>
<rect x="542.5" y="1264.5" width="333" height="237" fill="none" stroke="#222" stroke-width="1.6"/>
<text x="531.9" y="1507.1" font-size="16" font-weight="bold" fill="#222" text-anchor="end">0</text>
<text x="531.9" y="1467.2" font-size="16" font-weight="bold" fill="#222" text-anchor="end">20</text>
<text x="531.9" y="1427.3" font-size="16" font-weight="bold" fill="#222" text-anchor="end">40</text>
<text x="531.9" y="1387.4" font-size="16" font-weight="bold" fill="#222" text-anchor="end">60</text>
<text x="531.9" y="1347.5" font-size="16" font-weight="bold" fill="#222" text-anchor="end">80</text>
<text x="531.9" y="1307.6" font-size="16" font-weight="bold" fill="#222" text-anchor="end">100</text>
<rect x="585.5" y="1420.5" width="24" height="81" fill="#000" stroke="#111" stroke-width="1.5"/>
<rect x="618.5" y="1422.5" width="24" height="79" fill="#bdbdbd" stroke="#111" stroke-width="1.5"/>
<rect x="680.5" y="1345.5" width="23" height="156" fill="#000" stroke="#111" stroke-width="1.5"/>
<rect x="713.5" y="1428.5" width="23" height="73" fill="#bdbdbd" stroke="#111" stroke-width="1.5"/>
<rect x="775.5" y="1325.5" width="23" height="176" fill="#000" stroke="#111" stroke-width="1.5"/>
<rect x="808.5" y="1404.5" width="23" height="97" fill="#bdbdbd" stroke="#111" stroke-width="1.5"/>
<text x="597.2" y="1407.7" font-size="23.5" font-weight="bold" fill="#111" text-anchor="middle">b</text>
<text x="629.2" y="1409" font-size="23.5" font-weight="bold" fill="#111" text-anchor="middle">b</text>
<text x="691.4" y="1308.3" font-size="23.5" font-weight="bold" fill="#111" text-anchor="middle">a</text>
<text x="723.8" y="1416.3" font-size="23.5" font-weight="bold" fill="#111" text-anchor="middle">b</text>
<text x="785.3" y="1308.3" font-size="23.5" font-weight="bold" fill="#111" text-anchor="middle">a</text>
<text x="820.6" y="1381" font-size="23.5" font-weight="bold" fill="#111" text-anchor="middle">b</text>
<text x="613.8" y="1530.5" font-size="16" font-weight="bold" fill="#222" text-anchor="middle">0</text>
<text x="708.4" y="1530.5" font-size="16" font-weight="bold" fill="#222" text-anchor="middle">12</text>
<text x="802.3" y="1530.5" font-size="16" font-weight="bold" fill="#222" text-anchor="middle">24</text>
<text x="667.7" y="1553.3" font-size="20.5" font-weight="bold" fill="#222" textLength="82.3" lengthAdjust="spacingAndGlyphs">Time (h)</text>
<text x="490.6" y="1382.7" font-size="21" fill="#222" text-anchor="middle" transform="rotate(-90 490.6 1382.7)" textLength="117" lengthAdjust="spacingAndGlyphs" stroke="#222" stroke-width="0.5">ROS (+) (%)</text>
<rect x="553.5" y="1279.5" width="34" height="7" fill="#000" stroke="#111" stroke-width="1.2"/>
<rect x="553.5" y="1297.5" width="34" height="7" fill="#bdbdbd" stroke="#111" stroke-width="1.2"/>
<text x="595.2" y="1288.2" font-size="14" font-weight="bold" fill="#222" textLength="27.3" lengthAdjust="spacingAndGlyphs">SK1</text>
<text x="595.2" y="1306.2" font-size="14" font-weight="bold" fill="#222" textLength="61" lengthAdjust="spacingAndGlyphs">NAC/SK1</text>
<text x="792.4" y="1291.3" font-size="22.5" font-weight="bold" fill="#222" textLength="73" lengthAdjust="spacingAndGlyphs">CAL 27</text>
<rect x="979.5" y="1264.5" width="332" height="237" fill="none" stroke="#222" stroke-width="1.6"/>
<text x="969" y="1507.7" font-size="16" font-weight="bold" fill="#222" text-anchor="end">0</text>
<text x="969" y="1467.7" font-size="16" font-weight="bold" fill="#222" text-anchor="end">20</text>
<text x="969" y="1427.7" font-size="16" font-weight="bold" fill="#222" text-anchor="end">40</text>
<text x="969" y="1387.7" font-size="16" font-weight="bold" fill="#222" text-anchor="end">60</text>
<text x="969" y="1347.7" font-size="16" font-weight="bold" fill="#222" text-anchor="end">80</text>
<text x="969" y="1307.7" font-size="16" font-weight="bold" fill="#222" text-anchor="end">100</text>
<rect x="1022.5" y="1422.5" width="24" height="79" fill="#000" stroke="#111" stroke-width="1.5"/>
<rect x="1056.5" y="1420.5" width="23" height="81" fill="#bdbdbd" stroke="#111" stroke-width="1.5"/>
<rect x="1117.5" y="1403.5" width="24" height="98" fill="#000" stroke="#111" stroke-width="1.5"/>
<rect x="1150.5" y="1419.5" width="23" height="82" fill="#bdbdbd" stroke="#111" stroke-width="1.5"/>
<rect x="1211.5" y="1377.5" width="24" height="124" fill="#000" stroke="#111" stroke-width="1.5"/>
<rect x="1244.5" y="1406.5" width="24" height="95" fill="#bdbdbd" stroke="#111" stroke-width="1.5"/>
<text x="1035.6" y="1408.3" font-size="23.5" font-weight="bold" fill="#111" text-anchor="middle">c</text>
<text x="1067.3" y="1408.3" font-size="23.5" font-weight="bold" fill="#111" text-anchor="middle">c</text>
<text x="1128.5" y="1392.3" font-size="23.5" font-weight="bold" fill="#111" text-anchor="middle">b</text>
<text x="1162.2" y="1408.3" font-size="23.5" font-weight="bold" fill="#111" text-anchor="middle">c</text>
<text x="1223" y="1368.3" font-size="23.5" font-weight="bold" fill="#111" text-anchor="middle">a</text>
<text x="1257.4" y="1395.5" font-size="23.5" font-weight="bold" fill="#111" text-anchor="middle">b</text>
<text x="1050.6" y="1530.5" font-size="16" font-weight="bold" fill="#222" text-anchor="middle">0</text>
<text x="1146.2" y="1530.5" font-size="16" font-weight="bold" fill="#222" text-anchor="middle">12</text>
<text x="1239.7" y="1530.5" font-size="16" font-weight="bold" fill="#222" text-anchor="middle">24</text>
<text x="1103.5" y="1553.3" font-size="20.5" font-weight="bold" fill="#222" textLength="83.4" lengthAdjust="spacingAndGlyphs">Time (h)</text>
<text x="929" y="1382.7" font-size="21" fill="#222" text-anchor="middle" transform="rotate(-90 929 1382.7)" textLength="117" lengthAdjust="spacingAndGlyphs" stroke="#222" stroke-width="0.5">ROS (+) (%)</text>
<rect x="990.5" y="1279.5" width="33" height="7" fill="#000" stroke="#111" stroke-width="1.2"/>
<rect x="990.5" y="1297.5" width="33" height="7" fill="#bdbdbd" stroke="#111" stroke-width="1.2"/>
<text x="1032" y="1288.2" font-size="14" font-weight="bold" fill="#222" textLength="27.3" lengthAdjust="spacingAndGlyphs">SK1</text>
<text x="1032" y="1306.2" font-size="14" font-weight="bold" fill="#222" textLength="61" lengthAdjust="spacingAndGlyphs">NAC/SK1</text>
<text x="1260.6" y="1293" font-size="22.5" font-weight="bold" fill="#222" textLength="38.4" lengthAdjust="spacingAndGlyphs">S-G</text>
<path d="M80.5 266.5H87M80.5 227.5H87M80.5 187.5H87M80.5 148.5H87M80.5 108.5H87M80.5 69.5H87M80.5 513.5H87M80.5 466.5H87M80.5 419.5H87M80.5 372.5H87M80.5 325.5H87M80.5 758.5H87M80.5 715.5H87M80.5 671.5H87M80.5 627.5H87M80.5 584.5H87" stroke="#333" stroke-width="1.1" fill="none"/>
<path d="M83.8 256.5H87M83.8 246.5H87M83.8 236.5H87M83.8 217.5H87M83.8 207.5H87M83.8 197.5H87M83.8 177.5H87M83.8 167.5H87M83.8 158.5H87M83.8 138.5H87M83.8 128.5H87M83.8 118.5H87M83.8 98.5H87M83.8 88.5H87M83.8 79.5H87M98.5 267.3V270.3M105.5 267.3V270.3M110.5 267.3V270.3M114.5 267.3V270.3M117.5 267.3V270.3M120.5 267.3V270.3M122.5 267.3V270.3M124.5 267.3V270.3M138.5 267.3V270.3M145.5 267.3V270.3M150.5 267.3V270.3M154.5 267.3V270.3M157.5 267.3V270.3M159.5 267.3V270.3M162.5 267.3V270.3M164.5 267.3V270.3M177.5 267.3V270.3M184.5 267.3V270.3M189.5 267.3V270.3M193.5 267.3V270.3M196.5 267.3V270.3M199.5 267.3V270.3M201.5 267.3V270.3M203.5 267.3V270.3M217.5 267.3V270.3M224.5 267.3V270.3M229.5 267.3V270.3M233.5 267.3V270.3M236.5 267.3V270.3M238.5 267.3V270.3M241.5 267.3V270.3M243.5 267.3V270.3M256.5 267.3V270.3M263.5 267.3V270.3M268.5 267.3V270.3M272.5 267.3V270.3M275.5 267.3V270.3M278.5 267.3V270.3M280.5 267.3V270.3M282.5 267.3V270.3M314.5 267.3V270.3M321.5 267.3V270.3M326.5 267.3V270.3M329.5 267.3V270.3M333.5 267.3V270.3M335.5 267.3V270.3M337.5 267.3V270.3M339.5 267.3V270.3M353.5 267.3V270.3M360.5 267.3V270.3M365.5 267.3V270.3M369.5 267.3V270.3M372.5 267.3V270.3M375.5 267.3V270.3M377.5 267.3V270.3M379.5 267.3V270.3M393.5 267.3V270.3M400.5 267.3V270.3M405.5 267.3V270.3M408.5 267.3V270.3M412.5 267.3V270.3M414.5 267.3V270.3M416.5 267.3V270.3M418.5 267.3V270.3M432.5 267.3V270.3M439.5 267.3V270.3M444.5 267.3V270.3M448.5 267.3V270.3M451.5 267.3V270.3M454.5 267.3V270.3M456.5 267.3V270.3M458.5 267.3V270.3M472.5 267.3V270.3M479.5 267.3V270.3M484.5 267.3V270.3M487.5 267.3V270.3M491.5 267.3V270.3M493.5 267.3V270.3M495.5 267.3V270.3M497.5 267.3V270.3M530.5 267.3V270.3M537.5 267.3V270.3M541.5 267.3V270.3M545.5 267.3V270.3M548.5 267.3V270.3M551.5 267.3V270.3M553.5 267.3V270.3M555.5 267.3V270.3M569.5 267.3V270.3M576.5 267.3V270.3M581.5 267.3V270.3M585.5 267.3V270.3M588.5 267.3V270.3M591.5 267.3V270.3M593.5 267.3V270.3M595.5 267.3V270.3M609.5 267.3V270.3M616.5 267.3V270.3M620.5 267.3V270.3M624.5 267.3V270.3M627.5 267.3V270.3M630.5 267.3V270.3M632.5 267.3V270.3M634.5 267.3V270.3M648.5 267.3V270.3M655.5 267.3V270.3M660.5 267.3V270.3M664.5 267.3V270.3M667.5 267.3V270.3M670.5 267.3V270.3M672.5 267.3V270.3M674.5 267.3V270.3M688.5 267.3V270.3M695.5 267.3V270.3M699.5 267.3V270.3M703.5 267.3V270.3M706.5 267.3V270.3M709.5 267.3V270.3M711.5 267.3V270.3M713.5 267.3V270.3M746.5 267.3V270.3M753.5 267.3V270.3M758.5 267.3V270.3M761.5 267.3V270.3M765.5 267.3V270.3M767.5 267.3V270.3M769.5 267.3V270.3M771.5 267.3V270.3M785.5 267.3V270.3M792.5 267.3V270.3M797.5 267.3V270.3M801.5 267.3V270.3M804.5 267.3V270.3M807.5 267.3V270.3M809.5 267.3V270.3M811.5 267.3V270.3M825.5 267.3V270.3M832.5 267.3V270.3M837.5 267.3V270.3M840.5 267.3V270.3M844.5 267.3V270.3M846.5 267.3V270.3M848.5 267.3V270.3M850.5 267.3V270.3M864.5 267.3V270.3M871.5 267.3V270.3M876.5 267.3V270.3M880.5 267.3V270.3M883.5 267.3V270.3M886.5 267.3V270.3M888.5 267.3V270.3M890.5 267.3V270.3M904.5 267.3V270.3M911.5 267.3V270.3M916.5 267.3V270.3M919.5 267.3V270.3M923.5 267.3V270.3M925.5 267.3V270.3M927.5 267.3V270.3M929.5 267.3V270.3M83.8 501.5H87M83.8 489.5H87M83.8 478.5H87M83.8 454.5H87M83.8 442.5H87M83.8 431.5H87M83.8 407.5H87M83.8 396.5H87M83.8 384.5H87M83.8 361.5H87M83.8 349.5H87M83.8 337.5H87M83.8 314.5H87M98.5 513.7V516.7M105.5 513.7V516.7M110.5 513.7V516.7M114.5 513.7V516.7M117.5 513.7V516.7M120.5 513.7V516.7M122.5 513.7V516.7M124.5 513.7V516.7M138.5 513.7V516.7M145.5 513.7V516.7M150.5 513.7V516.7M154.5 513.7V516.7M157.5 513.7V516.7M159.5 513.7V516.7M162.5 513.7V516.7M164.5 513.7V516.7M177.5 513.7V516.7M184.5 513.7V516.7M189.5 513.7V516.7M193.5 513.7V516.7M196.5 513.7V516.7M199.5 513.7V516.7M201.5 513.7V516.7M203.5 513.7V516.7M217.5 513.7V516.7M224.5 513.7V516.7M229.5 513.7V516.7M233.5 513.7V516.7M236.5 513.7V516.7M238.5 513.7V516.7M241.5 513.7V516.7M243.5 513.7V516.7M256.5 513.7V516.7M263.5 513.7V516.7M268.5 513.7V516.7M272.5 513.7V516.7M275.5 513.7V516.7M278.5 513.7V516.7M280.5 513.7V516.7M282.5 513.7V516.7M314.5 513.7V516.7M321.5 513.7V516.7M326.5 513.7V516.7M329.5 513.7V516.7M333.5 513.7V516.7M335.5 513.7V516.7M337.5 513.7V516.7M339.5 513.7V516.7M353.5 513.7V516.7M360.5 513.7V516.7M365.5 513.7V516.7M369.5 513.7V516.7M372.5 513.7V516.7M375.5 513.7V516.7M377.5 513.7V516.7M379.5 513.7V516.7M393.5 513.7V516.7M400.5 513.7V516.7M405.5 513.7V516.7M408.5 513.7V516.7M412.5 513.7V516.7M414.5 513.7V516.7M416.5 513.7V516.7M418.5 513.7V516.7M432.5 513.7V516.7M439.5 513.7V516.7M444.5 513.7V516.7M448.5 513.7V516.7M451.5 513.7V516.7M454.5 513.7V516.7M456.5 513.7V516.7M458.5 513.7V516.7M472.5 513.7V516.7M479.5 513.7V516.7M484.5 513.7V516.7M487.5 513.7V516.7M491.5 513.7V516.7M493.5 513.7V516.7M495.5 513.7V516.7M497.5 513.7V516.7M530.5 513.7V516.7M537.5 513.7V516.7M541.5 513.7V516.7M545.5 513.7V516.7M548.5 513.7V516.7M551.5 513.7V516.7M553.5 513.7V516.7M555.5 513.7V516.7M569.5 513.7V516.7M576.5 513.7V516.7M581.5 513.7V516.7M585.5 513.7V516.7M588.5 513.7V516.7M591.5 513.7V516.7M593.5 513.7V516.7M595.5 513.7V516.7M609.5 513.7V516.7M616.5 513.7V516.7M620.5 513.7V516.7M624.5 513.7V516.7M627.5 513.7V516.7M630.5 513.7V516.7M632.5 513.7V516.7M634.5 513.7V516.7M648.5 513.7V516.7M655.5 513.7V516.7M660.5 513.7V516.7M664.5 513.7V516.7M667.5 513.7V516.7M670.5 513.7V516.7M672.5 513.7V516.7M674.5 513.7V516.7M688.5 513.7V516.7M695.5 513.7V516.7M699.5 513.7V516.7M703.5 513.7V516.7M706.5 513.7V516.7M709.5 513.7V516.7M711.5 513.7V516.7M713.5 513.7V516.7M746.5 513.7V516.7M753.5 513.7V516.7M758.5 513.7V516.7M761.5 513.7V516.7M765.5 513.7V516.7M767.5 513.7V516.7M769.5 513.7V516.7M771.5 513.7V516.7M785.5 513.7V516.7M792.5 513.7V516.7M797.5 513.7V516.7M801.5 513.7V516.7M804.5 513.7V516.7M807.5 513.7V516.7M809.5 513.7V516.7M811.5 513.7V516.7M825.5 513.7V516.7M832.5 513.7V516.7M837.5 513.7V516.7M840.5 513.7V516.7M844.5 513.7V516.7M846.5 513.7V516.7M848.5 513.7V516.7M850.5 513.7V516.7M864.5 513.7V516.7M871.5 513.7V516.7M876.5 513.7V516.7M880.5 513.7V516.7M883.5 513.7V516.7M886.5 513.7V516.7M888.5 513.7V516.7M890.5 513.7V516.7M904.5 513.7V516.7M911.5 513.7V516.7M916.5 513.7V516.7M919.5 513.7V516.7M923.5 513.7V516.7M925.5 513.7V516.7M927.5 513.7V516.7M929.5 513.7V516.7M83.8 747.5H87M83.8 736.5H87M83.8 725.5H87M83.8 704.5H87M83.8 693.5H87M83.8 682.5H87M83.8 660.5H87M83.8 649.5H87M83.8 638.5H87M83.8 616.5H87M83.8 606.5H87M83.8 595.5H87M83.8 573.5H87M83.8 562.5H87M83.8 551.5H87M98.5 758.8V761.8M105.5 758.8V761.8M110.5 758.8V761.8M114.5 758.8V761.8M117.5 758.8V761.8M120.5 758.8V761.8M122.5 758.8V761.8M124.5 758.8V761.8M138.5 758.8V761.8M145.5 758.8V761.8M150.5 758.8V761.8M154.5 758.8V761.8M157.5 758.8V761.8M159.5 758.8V761.8M162.5 758.8V761.8M164.5 758.8V761.8M177.5 758.8V761.8M184.5 758.8V761.8M189.5 758.8V761.8M193.5 758.8V761.8M196.5 758.8V761.8M199.5 758.8V761.8M201.5 758.8V761.8M203.5 758.8V761.8M217.5 758.8V761.8M224.5 758.8V761.8M229.5 758.8V761.8M233.5 758.8V761.8M236.5 758.8V761.8M238.5 758.8V761.8M241.5 758.8V761.8M243.5 758.8V761.8M256.5 758.8V761.8M263.5 758.8V761.8M268.5 758.8V761.8M272.5 758.8V761.8M275.5 758.8V761.8M278.5 758.8V761.8M280.5 758.8V761.8M282.5 758.8V761.8M314.5 758.8V761.8M321.5 758.8V761.8M326.5 758.8V761.8M329.5 758.8V761.8M333.5 758.8V761.8M335.5 758.8V761.8M337.5 758.8V761.8M339.5 758.8V761.8M353.5 758.8V761.8M360.5 758.8V761.8M365.5 758.8V761.8M369.5 758.8V761.8M372.5 758.8V761.8M375.5 758.8V761.8M377.5 758.8V761.8M379.5 758.8V761.8M393.5 758.8V761.8M400.5 758.8V761.8M405.5 758.8V761.8M408.5 758.8V761.8M412.5 758.8V761.8M414.5 758.8V761.8M416.5 758.8V761.8M418.5 758.8V761.8M432.5 758.8V761.8M439.5 758.8V761.8M444.5 758.8V761.8M448.5 758.8V761.8M451.5 758.8V761.8M454.5 758.8V761.8M456.5 758.8V761.8M458.5 758.8V761.8M472.5 758.8V761.8M479.5 758.8V761.8M484.5 758.8V761.8M487.5 758.8V761.8M491.5 758.8V761.8M493.5 758.8V761.8M495.5 758.8V761.8M497.5 758.8V761.8M530.5 758.8V761.8M537.5 758.8V761.8M541.5 758.8V761.8M545.5 758.8V761.8M548.5 758.8V761.8M551.5 758.8V761.8M553.5 758.8V761.8M555.5 758.8V761.8M569.5 758.8V761.8M576.5 758.8V761.8M581.5 758.8V761.8M585.5 758.8V761.8M588.5 758.8V761.8M591.5 758.8V761.8M593.5 758.8V761.8M595.5 758.8V761.8M609.5 758.8V761.8M616.5 758.8V761.8M620.5 758.8V761.8M624.5 758.8V761.8M627.5 758.8V761.8M630.5 758.8V761.8M632.5 758.8V761.8M634.5 758.8V761.8M648.5 758.8V761.8M655.5 758.8V761.8M660.5 758.8V761.8M664.5 758.8V761.8M667.5 758.8V761.8M670.5 758.8V761.8M672.5 758.8V761.8M674.5 758.8V761.8M688.5 758.8V761.8M695.5 758.8V761.8M699.5 758.8V761.8M703.5 758.8V761.8M706.5 758.8V761.8M709.5 758.8V761.8M711.5 758.8V761.8M713.5 758.8V761.8M746.5 758.8V761.8M753.5 758.8V761.8M758.5 758.8V761.8M761.5 758.8V761.8M765.5 758.8V761.8M767.5 758.8V761.8M769.5 758.8V761.8M771.5 758.8V761.8M785.5 758.8V761.8M792.5 758.8V761.8M797.5 758.8V761.8M801.5 758.8V761.8M804.5 758.8V761.8M807.5 758.8V761.8M809.5 758.8V761.8M811.5 758.8V761.8M825.5 758.8V761.8M832.5 758.8V761.8M837.5 758.8V761.8M840.5 758.8V761.8M844.5 758.8V761.8M846.5 758.8V761.8M848.5 758.8V761.8M850.5 758.8V761.8M864.5 758.8V761.8M871.5 758.8V761.8M876.5 758.8V761.8M880.5 758.8V761.8M883.5 758.8V761.8M886.5 758.8V761.8M888.5 758.8V761.8M890.5 758.8V761.8M904.5 758.8V761.8M911.5 758.8V761.8M916.5 758.8V761.8M919.5 758.8V761.8M923.5 758.8V761.8M925.5 758.8V761.8M927.5 758.8V761.8M929.5 758.8V761.8" stroke="#444" stroke-width="0.9" fill="none"/>
<path d="M87.5 267.3V272.6M126.5 267.3V272.6M166.5 267.3V272.6M205.5 267.3V272.6M245.5 267.3V272.6M284.5 267.3V272.6M302.5 267.3V272.6M341.5 267.3V272.6M381.5 267.3V272.6M420.5 267.3V272.6M460.5 267.3V272.6M499.5 267.3V272.6M518.5 267.3V272.6M557.5 267.3V272.6M597.5 267.3V272.6M636.5 267.3V272.6M676.5 267.3V272.6M715.5 267.3V272.6M734.5 267.3V272.6M773.5 267.3V272.6M813.5 267.3V272.6M852.5 267.3V272.6M892.5 267.3V272.6M931.5 267.3V272.6M87.5 513.7V519M126.5 513.7V519M166.5 513.7V519M205.5 513.7V519M245.5 513.7V519M284.5 513.7V519M302.5 513.7V519M341.5 513.7V519M381.5 513.7V519M420.5 513.7V519M460.5 513.7V519M499.5 513.7V519M518.5 513.7V519M557.5 513.7V519M597.5 513.7V519M636.5 513.7V519M676.5 513.7V519M715.5 513.7V519M734.5 513.7V519M773.5 513.7V519M813.5 513.7V519M852.5 513.7V519M892.5 513.7V519M931.5 513.7V519M87.5 758.8V764.1M126.5 758.8V764.1M166.5 758.8V764.1M205.5 758.8V764.1M245.5 758.8V764.1M284.5 758.8V764.1M302.5 758.8V764.1M341.5 758.8V764.1M381.5 758.8V764.1M420.5 758.8V764.1M460.5 758.8V764.1M499.5 758.8V764.1M518.5 758.8V764.1M557.5 758.8V764.1M597.5 758.8V764.1M636.5 758.8V764.1M676.5 758.8V764.1M715.5 758.8V764.1M734.5 758.8V764.1M773.5 758.8V764.1M813.5 758.8V764.1M852.5 758.8V764.1M892.5 758.8V764.1M931.5 758.8V764.1" stroke="#333" stroke-width="1.2" fill="none"/>
<path d="M87 212.5H189.3M189.5 208.8V216.4M189.3 223.5H296M189.5 219.5V227.1M302.3 212.5H404.7M404.5 208.8V216.4M404.7 223.5H511.8M404.5 219.5V227.1M518.2 212.5H620.6M620.5 208.8V216.4M620.6 223.5H726.3M620.5 219.5V227.1M734.3 212.5H836.7M836.5 208.8V216.4M836.7 223.5H943.2M836.5 219.5V227.1M87 453.5H179.9M179.5 449.2V456.8M179.9 464.5H296M179.5 460.8V468.4M302.3 453.5H395M395.5 449.2V456.8M395 464.5H511.8M395.5 460.8V468.4M518.2 453.5H610M610.5 449.2V456.8M610 464.5H726.3M610.5 460.8V468.4M734.3 453.5H827M827.5 449.2V456.8M827 464.5H943.2M827.5 460.8V468.4M87 685.5H173.6M173.5 682V689.6M173.6 697.5H296M173.5 693.5V701.1M302.3 685.5H389M389.5 682V689.6M389 697.5H511.8M389.5 693.5V701.1M518.2 685.5H604.9M604.5 682V689.6M604.9 697.5H726.3M604.5 693.5V701.1M734.3 685.5H821M821.5 682V689.6M821 697.5H943.2M821.5 693.5V701.1" stroke="#222" stroke-width="1.3" fill="none"/>
<path d="M1056.8 269.5H1060M1056.8 234.5H1060M1056.8 199.5H1060M1056.8 164.5H1060M1056.8 128.5H1060M1056.8 93.5H1060M1109.5 269.7V273.2M1174.5 269.7V273.2M1238.5 269.7V273.2M1304.5 269.7V273.2M1052.8 515.5H1056M1052.8 479.5H1056M1052.8 443.5H1056M1052.8 408.5H1056M1052.8 372.5H1056M1052.8 336.5H1056M1105.5 515.3V518.8M1171.5 515.3V518.8M1236.5 515.3V518.8M1303.5 515.3V518.8M1052.8 770.5H1056M1052.8 734.5H1056M1052.8 698.5H1056M1052.8 662.5H1056M1052.8 626.5H1056M1052.8 590.5H1056M1105.5 770.2V773.7M1171.5 770.2V773.7M1236.5 770.2V773.7M1303.5 770.2V773.7" stroke="#333" stroke-width="1.3" fill="none"/>
<path d="M1109.5 190.5V199.3M1103.8 190.5H1114.8M1174.5 141.2V148.3M1168.5 141.5H1179.5M1238.5 155.3V162.3M1233.4 155.5H1244.4M1304.5 107.8V109.5M1298.7 107.5H1309.7M1105.5 440.9V443.2M1100 440.5H1111M1171.5 394.1V405.3M1165.7 394.5H1176.7M1236.5 370.1V381.6M1231.4 370.5H1242.4M1303.5 348.7V357.2M1297.5 348.5H1308.5M1105.5 697.5V699.5M1100 697.5H1111M1171.5 724.5V725.7M1165.7 724.5H1176.7M1236.5 700.6V702.6M1231.4 700.5H1242.4M1303.5 658.4V659.2M1297.5 658.5H1308.5M110 1494.5H114M110 1455.5H114M110 1417.5H114M110 1378.5H114M110 1340.5H114M110 1301.5H114M183.5 1494.2V1497.7M275.5 1494.2V1497.7M367.5 1494.2V1497.7M538.4 1501.5H542.4M538.4 1461.5H542.4M538.4 1421.5H542.4M538.4 1381.5H542.4M538.4 1341.5H542.4M538.4 1301.5H542.4M613.5 1501.3V1504.8M708.5 1501.3V1504.8M802.5 1501.3V1504.8M975.5 1501.5H979.5M975.5 1461.5H979.5M975.5 1421.5H979.5M975.5 1381.5H979.5M975.5 1341.5H979.5M975.5 1301.5H979.5M1050.5 1501.9V1505.4M1146.5 1501.9V1505.4M1239.5 1501.9V1505.4" stroke="#222" stroke-width="1.4" fill="none"/>
<path d="M58.2 1057.5H62.2M58.2 1035.5H62.2M58.2 1012.5H62.2M58.2 990.5H62.2M58.2 968.5H62.2M58.2 945.5H62.2M58.2 1193.5H62.2M58.2 1169.5H62.2M58.2 1146.5H62.2M58.2 1123.5H62.2M58.2 1099.5H62.2M58.2 1076.5H62.2M488 1058.5H492M488 1033.5H492M488 1008.5H492M488 984.5H492M488 959.5H492M488 934.5H492M488 1193.5H492M488 1167.5H492M488 1142.5H492M488 1117.5H492M488 1092.5H492M488 1067.5H492M917.7 1058.5H921.7M917.7 1030.5H921.7M917.7 1002.5H921.7M917.7 974.5H921.7M917.7 946.5H921.7M917.7 1193.5H921.7M917.7 1166.5H921.7M917.7 1139.5H921.7M917.7 1112.5H921.7M917.7 1084.5H921.7" stroke="#333" stroke-width="0.9" fill="none"/>
<path d="M60 1052.5H62.2M60 1046.5H62.2M60 1040.5H62.2M60 1029.5H62.2M60 1024.5H62.2M60 1018.5H62.2M60 1007.5H62.2M60 1001.5H62.2M60 996.5H62.2M60 984.5H62.2M60 979.5H62.2M60 973.5H62.2M60 962.5H62.2M60 956.5H62.2M60 951.5H62.2M60 940.5H62.2M60 934.5H62.2M60 928.5H62.2M60 1187.5H62.2M60 1181.5H62.2M60 1175.5H62.2M60 1164.5H62.2M60 1158.5H62.2M60 1152.5H62.2M60 1140.5H62.2M60 1134.5H62.2M60 1129.5H62.2M60 1117.5H62.2M60 1111.5H62.2M60 1105.5H62.2M60 1094.5H62.2M60 1088.5H62.2M60 1082.5H62.2M60 1070.5H62.2M60 1064.5H62.2M69.5 1194.2V1196.2M74.5 1194.2V1196.2M77.5 1194.2V1196.2M79.5 1194.2V1196.2M81.5 1194.2V1196.2M83.5 1194.2V1196.2M84.5 1194.2V1196.2M86.5 1194.2V1196.2M94.5 1194.2V1196.2M99.5 1194.2V1196.2M102.5 1194.2V1196.2M104.5 1194.2V1196.2M106.5 1194.2V1196.2M108.5 1194.2V1196.2M109.5 1194.2V1196.2M111.5 1194.2V1196.2M119.5 1194.2V1196.2M124.5 1194.2V1196.2M127.5 1194.2V1196.2M129.5 1194.2V1196.2M131.5 1194.2V1196.2M133.5 1194.2V1196.2M134.5 1194.2V1196.2M136.5 1194.2V1196.2M144.5 1194.2V1196.2M149.5 1194.2V1196.2M152.5 1194.2V1196.2M154.5 1194.2V1196.2M156.5 1194.2V1196.2M158.5 1194.2V1196.2M159.5 1194.2V1196.2M161.5 1194.2V1196.2M169.5 1194.2V1196.2M174.5 1194.2V1196.2M177.5 1194.2V1196.2M179.5 1194.2V1196.2M181.5 1194.2V1196.2M183.5 1194.2V1196.2M185.5 1194.2V1196.2M186.5 1194.2V1196.2M204.5 1194.2V1196.2M209.5 1194.2V1196.2M212.5 1194.2V1196.2M214.5 1194.2V1196.2M216.5 1194.2V1196.2M218.5 1194.2V1196.2M220.5 1194.2V1196.2M221.5 1194.2V1196.2M229.5 1194.2V1196.2M234.5 1194.2V1196.2M237.5 1194.2V1196.2M239.5 1194.2V1196.2M241.5 1194.2V1196.2M243.5 1194.2V1196.2M245.5 1194.2V1196.2M246.5 1194.2V1196.2M255.5 1194.2V1196.2M259.5 1194.2V1196.2M262.5 1194.2V1196.2M265.5 1194.2V1196.2M266.5 1194.2V1196.2M268.5 1194.2V1196.2M270.5 1194.2V1196.2M271.5 1194.2V1196.2M280.5 1194.2V1196.2M284.5 1194.2V1196.2M287.5 1194.2V1196.2M290.5 1194.2V1196.2M292.5 1194.2V1196.2M293.5 1194.2V1196.2M295.5 1194.2V1196.2M296.5 1194.2V1196.2M305.5 1194.2V1196.2M309.5 1194.2V1196.2M312.5 1194.2V1196.2M315.5 1194.2V1196.2M317.5 1194.2V1196.2M318.5 1194.2V1196.2M320.5 1194.2V1196.2M321.5 1194.2V1196.2M341.5 1194.2V1196.2M345.5 1194.2V1196.2M348.5 1194.2V1196.2M351.5 1194.2V1196.2M352.5 1194.2V1196.2M354.5 1194.2V1196.2M356.5 1194.2V1196.2M357.5 1194.2V1196.2M366.5 1194.2V1196.2M370.5 1194.2V1196.2M373.5 1194.2V1196.2M376.5 1194.2V1196.2M378.5 1194.2V1196.2M379.5 1194.2V1196.2M381.5 1194.2V1196.2M382.5 1194.2V1196.2M391.5 1194.2V1196.2M395.5 1194.2V1196.2M398.5 1194.2V1196.2M401.5 1194.2V1196.2M403.5 1194.2V1196.2M404.5 1194.2V1196.2M406.5 1194.2V1196.2M407.5 1194.2V1196.2M416.5 1194.2V1196.2M420.5 1194.2V1196.2M423.5 1194.2V1196.2M426.5 1194.2V1196.2M428.5 1194.2V1196.2M429.5 1194.2V1196.2M431.5 1194.2V1196.2M432.5 1194.2V1196.2M441.5 1194.2V1196.2M445.5 1194.2V1196.2M448.5 1194.2V1196.2M451.5 1194.2V1196.2M453.5 1194.2V1196.2M454.5 1194.2V1196.2M456.5 1194.2V1196.2M457.5 1194.2V1196.2M489.8 1051.5H492M489.8 1045.5H492M489.8 1039.5H492M489.8 1027.5H492M489.8 1021.5H492M489.8 1014.5H492M489.8 1002.5H492M489.8 996.5H492M489.8 990.5H492M489.8 977.5H492M489.8 971.5H492M489.8 965.5H492M489.8 953.5H492M489.8 947.5H492M489.8 940.5H492M489.8 928.5H492M489.8 1186.5H492M489.8 1180.5H492M489.8 1174.5H492M489.8 1161.5H492M489.8 1155.5H492M489.8 1148.5H492M489.8 1136.5H492M489.8 1130.5H492M489.8 1123.5H492M489.8 1111.5H492M489.8 1104.5H492M489.8 1098.5H492M489.8 1085.5H492M489.8 1079.5H492M489.8 1073.5H492M499.5 1194.2V1196.2M503.5 1194.2V1196.2M507.5 1194.2V1196.2M509.5 1194.2V1196.2M511.5 1194.2V1196.2M513.5 1194.2V1196.2M514.5 1194.2V1196.2M515.5 1194.2V1196.2M524.5 1194.2V1196.2M529.5 1194.2V1196.2M532.5 1194.2V1196.2M534.5 1194.2V1196.2M536.5 1194.2V1196.2M538.5 1194.2V1196.2M539.5 1194.2V1196.2M540.5 1194.2V1196.2M549.5 1194.2V1196.2M554.5 1194.2V1196.2M557.5 1194.2V1196.2M559.5 1194.2V1196.2M561.5 1194.2V1196.2M563.5 1194.2V1196.2M564.5 1194.2V1196.2M566.5 1194.2V1196.2M574.5 1194.2V1196.2M579.5 1194.2V1196.2M582.5 1194.2V1196.2M584.5 1194.2V1196.2M586.5 1194.2V1196.2M588.5 1194.2V1196.2M589.5 1194.2V1196.2M591.5 1194.2V1196.2M599.5 1194.2V1196.2M604.5 1194.2V1196.2M607.5 1194.2V1196.2M609.5 1194.2V1196.2M611.5 1194.2V1196.2M613.5 1194.2V1196.2M614.5 1194.2V1196.2M616.5 1194.2V1196.2M635.5 1194.2V1196.2M640.5 1194.2V1196.2M643.5 1194.2V1196.2M645.5 1194.2V1196.2M647.5 1194.2V1196.2M649.5 1194.2V1196.2M650.5 1194.2V1196.2M652.5 1194.2V1196.2M660.5 1194.2V1196.2M665.5 1194.2V1196.2M668.5 1194.2V1196.2M670.5 1194.2V1196.2M672.5 1194.2V1196.2M674.5 1194.2V1196.2M675.5 1194.2V1196.2M677.5 1194.2V1196.2M685.5 1194.2V1196.2M690.5 1194.2V1196.2M693.5 1194.2V1196.2M695.5 1194.2V1196.2M697.5 1194.2V1196.2M699.5 1194.2V1196.2M701.5 1194.2V1196.2M702.5 1194.2V1196.2M710.5 1194.2V1196.2M715.5 1194.2V1196.2M718.5 1194.2V1196.2M720.5 1194.2V1196.2M722.5 1194.2V1196.2M724.5 1194.2V1196.2M726.5 1194.2V1196.2M727.5 1194.2V1196.2M736.5 1194.2V1196.2M740.5 1194.2V1196.2M743.5 1194.2V1196.2M746.5 1194.2V1196.2M747.5 1194.2V1196.2M749.5 1194.2V1196.2M751.5 1194.2V1196.2M752.5 1194.2V1196.2M771.5 1194.2V1196.2M775.5 1194.2V1196.2M778.5 1194.2V1196.2M781.5 1194.2V1196.2M782.5 1194.2V1196.2M784.5 1194.2V1196.2M786.5 1194.2V1196.2M787.5 1194.2V1196.2M796.5 1194.2V1196.2M800.5 1194.2V1196.2M803.5 1194.2V1196.2M806.5 1194.2V1196.2M808.5 1194.2V1196.2M809.5 1194.2V1196.2M811.5 1194.2V1196.2M812.5 1194.2V1196.2M821.5 1194.2V1196.2M825.5 1194.2V1196.2M828.5 1194.2V1196.2M831.5 1194.2V1196.2M833.5 1194.2V1196.2M834.5 1194.2V1196.2M836.5 1194.2V1196.2M837.5 1194.2V1196.2M846.5 1194.2V1196.2M850.5 1194.2V1196.2M853.5 1194.2V1196.2M856.5 1194.2V1196.2M858.5 1194.2V1196.2M859.5 1194.2V1196.2M861.5 1194.2V1196.2M862.5 1194.2V1196.2M871.5 1194.2V1196.2M875.5 1194.2V1196.2M878.5 1194.2V1196.2M881.5 1194.2V1196.2M883.5 1194.2V1196.2M884.5 1194.2V1196.2M886.5 1194.2V1196.2M887.5 1194.2V1196.2M919.5 1051.5H921.7M919.5 1044.5H921.7M919.5 1037.5H921.7M919.5 1023.5H921.7M919.5 1016.5H921.7M919.5 1009.5H921.7M919.5 995.5H921.7M919.5 988.5H921.7M919.5 981.5H921.7M919.5 967.5H921.7M919.5 960.5H921.7M919.5 953.5H921.7M919.5 939.5H921.7M919.5 932.5H921.7M919.5 1186.5H921.7M919.5 1179.5H921.7M919.5 1172.5H921.7M919.5 1159.5H921.7M919.5 1152.5H921.7M919.5 1145.5H921.7M919.5 1132.5H921.7M919.5 1125.5H921.7M919.5 1118.5H921.7M919.5 1105.5H921.7M919.5 1098.5H921.7M919.5 1091.5H921.7M919.5 1078.5H921.7M919.5 1071.5H921.7M919.5 1064.5H921.7M929.5 1194.2V1196.2M933.5 1194.2V1196.2M936.5 1194.2V1196.2M939.5 1194.2V1196.2M941.5 1194.2V1196.2M942.5 1194.2V1196.2M944.5 1194.2V1196.2M945.5 1194.2V1196.2M954.5 1194.2V1196.2M958.5 1194.2V1196.2M961.5 1194.2V1196.2M964.5 1194.2V1196.2M966.5 1194.2V1196.2M967.5 1194.2V1196.2M969.5 1194.2V1196.2M970.5 1194.2V1196.2M979.5 1194.2V1196.2M983.5 1194.2V1196.2M986.5 1194.2V1196.2M989.5 1194.2V1196.2M991.5 1194.2V1196.2M992.5 1194.2V1196.2M994.5 1194.2V1196.2M995.5 1194.2V1196.2M1004.5 1194.2V1196.2M1008.5 1194.2V1196.2M1011.5 1194.2V1196.2M1014.5 1194.2V1196.2M1016.5 1194.2V1196.2M1018.5 1194.2V1196.2M1019.5 1194.2V1196.2M1020.5 1194.2V1196.2M1029.5 1194.2V1196.2M1033.5 1194.2V1196.2M1036.5 1194.2V1196.2M1039.5 1194.2V1196.2M1041.5 1194.2V1196.2M1043.5 1194.2V1196.2M1044.5 1194.2V1196.2M1045.5 1194.2V1196.2M1064.5 1194.2V1196.2M1069.5 1194.2V1196.2M1072.5 1194.2V1196.2M1074.5 1194.2V1196.2M1076.5 1194.2V1196.2M1078.5 1194.2V1196.2M1080.5 1194.2V1196.2M1081.5 1194.2V1196.2M1089.5 1194.2V1196.2M1094.5 1194.2V1196.2M1097.5 1194.2V1196.2M1099.5 1194.2V1196.2M1101.5 1194.2V1196.2M1103.5 1194.2V1196.2M1105.5 1194.2V1196.2M1106.5 1194.2V1196.2M1115.5 1194.2V1196.2M1119.5 1194.2V1196.2M1122.5 1194.2V1196.2M1125.5 1194.2V1196.2M1126.5 1194.2V1196.2M1128.5 1194.2V1196.2M1130.5 1194.2V1196.2M1131.5 1194.2V1196.2M1140.5 1194.2V1196.2M1144.5 1194.2V1196.2M1147.5 1194.2V1196.2M1150.5 1194.2V1196.2M1152.5 1194.2V1196.2M1153.5 1194.2V1196.2M1155.5 1194.2V1196.2M1156.5 1194.2V1196.2M1165.5 1194.2V1196.2M1169.5 1194.2V1196.2M1172.5 1194.2V1196.2M1175.5 1194.2V1196.2M1177.5 1194.2V1196.2M1178.5 1194.2V1196.2M1180.5 1194.2V1196.2M1181.5 1194.2V1196.2M1201.5 1194.2V1196.2M1205.5 1194.2V1196.2M1208.5 1194.2V1196.2M1211.5 1194.2V1196.2M1212.5 1194.2V1196.2M1214.5 1194.2V1196.2M1216.5 1194.2V1196.2M1217.5 1194.2V1196.2M1226.5 1194.2V1196.2M1230.5 1194.2V1196.2M1233.5 1194.2V1196.2M1236.5 1194.2V1196.2M1238.5 1194.2V1196.2M1239.5 1194.2V1196.2M1241.5 1194.2V1196.2M1242.5 1194.2V1196.2M1251.5 1194.2V1196.2M1255.5 1194.2V1196.2M1258.5 1194.2V1196.2M1261.5 1194.2V1196.2M1263.5 1194.2V1196.2M1264.5 1194.2V1196.2M1266.5 1194.2V1196.2M1267.5 1194.2V1196.2M1276.5 1194.2V1196.2M1280.5 1194.2V1196.2M1283.5 1194.2V1196.2M1286.5 1194.2V1196.2M1288.5 1194.2V1196.2M1289.5 1194.2V1196.2M1291.5 1194.2V1196.2M1292.5 1194.2V1196.2M1301.5 1194.2V1196.2M1305.5 1194.2V1196.2M1308.5 1194.2V1196.2M1311.5 1194.2V1196.2M1313.5 1194.2V1196.2M1314.5 1194.2V1196.2M1316.5 1194.2V1196.2M1317.5 1194.2V1196.2" stroke="#444" stroke-width="0.7" fill="none"/>
<path d="M62.2 1022.5H129.4M129.5 1020.2V1025M129.4 1029.5H193.2M129.5 1027.2V1032M197.4 1022.5H265M265.5 1020.2V1025M265 1029.5H328.8M265.5 1027.2V1032M333.5 1022.5H401.2M401.5 1020.2V1025M401.2 1029.5H465M401.5 1027.2V1032M62.2 1161.5H120.6M120.5 1158.7V1163.5M120.6 1168.5H193.2M120.5 1165.6V1170.4M197.4 1161.5H256.3M256.5 1158.7V1163.5M256.3 1168.5H328.8M256.5 1165.6V1170.4M333.5 1161.5H392.2M392.5 1158.7V1163.5M392.2 1168.5H465M392.5 1165.6V1170.4M492 1020.5H551.3M551.5 1017.6V1022.4M551.3 1026.5H624.1M551.5 1024V1028.8M628.3 1020.5H686.9M686.5 1017.6V1022.4M686.9 1026.5H759.7M686.5 1024V1028.8M763.5 1020.5H822.2M822.5 1017.6V1022.4M822.2 1026.5H895.3M822.5 1024V1028.8M492 1154.5H552.3M552.5 1152.2V1157M552.3 1161.5H624.1M552.5 1158.9V1163.7M628.3 1154.5H688.2M688.5 1152.2V1157M688.2 1161.5H759.7M688.5 1158.9V1163.7M763.5 1154.5H823.1M823.5 1152.2V1157M823.1 1161.5H895.3M823.5 1158.9V1163.7M921.7 1012.5H977.5M977.5 1009.9V1014.7M977.5 1019.5H1053.3M977.5 1017.5V1022.3M1057.4 1012.5H1112.9M1112.5 1009.9V1014.7M1112.9 1019.5H1188.7M1112.5 1017.5V1022.3M1193.5 1012.5H1249M1249.5 1009.9V1014.7M1249 1019.5H1324.7M1249.5 1017.5V1022.3M921.7 1151.5H974M974.5 1149.1V1153.9M974 1158.5H1053.3M974.5 1156V1160.8M1057.4 1151.5H1109.4M1109.5 1149.1V1153.9M1109.4 1158.5H1188.7M1109.5 1156V1160.8M1193.5 1151.5H1245.5M1245.5 1149.1V1153.9M1245.5 1158.5H1324.7M1245.5 1156V1160.8" stroke="#222" stroke-width="1.2" fill="none"/>
<path d="M62.5 1194.2V1197.7M87.5 1194.2V1197.7M112.5 1194.2V1197.7M137.5 1194.2V1197.7M162.5 1194.2V1197.7M187.5 1194.2V1197.7M197.5 1194.2V1197.7M222.5 1194.2V1197.7M247.5 1194.2V1197.7M272.5 1194.2V1197.7M297.5 1194.2V1197.7M322.5 1194.2V1197.7M333.5 1194.2V1197.7M358.5 1194.2V1197.7M383.5 1194.2V1197.7M408.5 1194.2V1197.7M433.5 1194.2V1197.7M458.5 1194.2V1197.7M492.5 1194.2V1197.7M517.5 1194.2V1197.7M542.5 1194.2V1197.7M567.5 1194.2V1197.7M592.5 1194.2V1197.7M617.5 1194.2V1197.7M628.5 1194.2V1197.7M653.5 1194.2V1197.7M678.5 1194.2V1197.7M703.5 1194.2V1197.7M728.5 1194.2V1197.7M753.5 1194.2V1197.7M763.5 1194.2V1197.7M788.5 1194.2V1197.7M813.5 1194.2V1197.7M838.5 1194.2V1197.7M863.5 1194.2V1197.7M888.5 1194.2V1197.7M921.5 1194.2V1197.7M946.5 1194.2V1197.7M971.5 1194.2V1197.7M996.5 1194.2V1197.7M1021.5 1194.2V1197.7M1046.5 1194.2V1197.7M1057.5 1194.2V1197.7M1082.5 1194.2V1197.7M1107.5 1194.2V1197.7M1132.5 1194.2V1197.7M1157.5 1194.2V1197.7M1182.5 1194.2V1197.7M1193.5 1194.2V1197.7M1218.5 1194.2V1197.7M1243.5 1194.2V1197.7M1268.5 1194.2V1197.7M1293.5 1194.2V1197.7M1318.5 1194.2V1197.7" stroke="#333" stroke-width="1" fill="none"/>
<path d="M167.5 1406.8V1417.2M162.7 1406.5H172.7M199.5 1406.8V1417.2M194.6 1406.5H204.6M259.5 1315.5V1320.9M254.5 1315.5H264.5M291.5 1395.6V1407.5M286.5 1395.5H296.5M351.5 1317.4V1319.9M346 1317.5H356M383.5 1345.9V1356.5M378 1345.5H388M597.5 1418.1V1420.5M592.3 1418.5H602.3M630.5 1420.5V1422.7M625 1420.5H635M691.5 1317.4V1345.7M686.9 1317.5H696.9M724.5 1426.5V1428.1M719.9 1426.5H729.9M786.5 1315.2V1325.1M781.5 1315.5H791.5M820.5 1390.6V1404.9M815.1 1390.5H825.1M1034.5 1420.5V1422.7M1029.5 1420.5H1039.5M1067.5 1419.3V1420.3M1062.8 1419.5H1072.8M1129.5 1400.3V1403.1M1124 1400.5H1134M1161.5 1417.9V1419.5M1156.7 1417.5H1166.7M1223.5 1376.9V1377.9M1218.5 1376.5H1228.5M1256.5 1404.1V1406.5M1251.6 1404.5H1261.6" stroke="#222" stroke-width="1.5" fill="none"/>
</svg></body></html>
